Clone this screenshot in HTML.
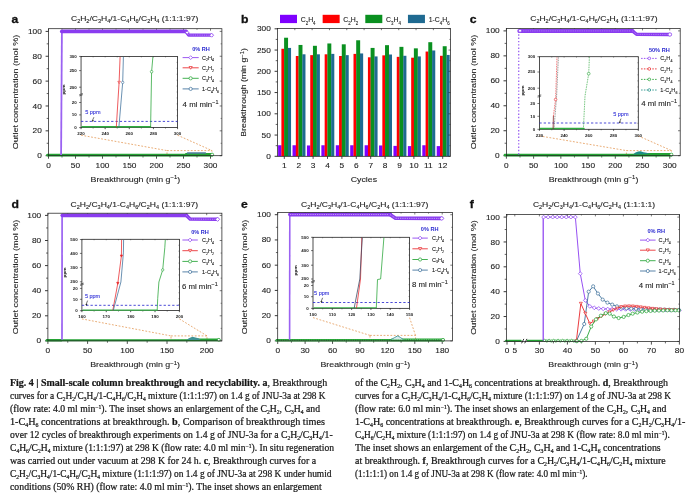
<!DOCTYPE html>
<html lang="en"><head><meta charset="utf-8"><title>Fig. 4 Small-scale column breakthrough and recyclability</title>
<style>
html,body{margin:0;padding:0;background:#fff}
#pg{position:relative;width:692px;height:493px;overflow:hidden;background:#fff}
svg{position:absolute;left:0;top:0}
svg text{font-family:"Liberation Sans",Arial,Helvetica,sans-serif}
.cl{position:absolute;white-space:nowrap;font-family:"Liberation Serif","Times New Roman",serif;font-size:10px;line-height:13px;color:#161616;transform-origin:0 0;-webkit-text-stroke:0.22px #161616}
.cl b{font-weight:bold}
.cl sub{font-size:5.8px;vertical-align:-1.8px;line-height:0}
.cl sup{font-size:5.8px;vertical-align:3.4px;line-height:0}
</style></head><body><div id="pg">
<svg width="692" height="493" viewBox="0 0 692 493">
<text transform="translate(11.60 22.80) scale(1.080 1)" font-size="11.30" fill="#111" stroke="#111" stroke-width="0.30" font-weight="bold" >a</text>
<text transform="translate(134.65 20.60) scale(1.188 1)" font-size="7.20" fill="#222222" stroke="#222222" stroke-width="0.10" text-anchor="middle" >C<tspan dy="2.45" font-size="4.61">2</tspan><tspan dy="-2.45">H</tspan><tspan dy="2.45" font-size="4.61">2</tspan><tspan dy="-2.45">/C</tspan><tspan dy="2.45" font-size="4.61">3</tspan><tspan dy="-2.45">H</tspan><tspan dy="2.45" font-size="4.61">4</tspan><tspan dy="-2.45">/1-C</tspan><tspan dy="2.45" font-size="4.61">4</tspan><tspan dy="-2.45">H</tspan><tspan dy="2.45" font-size="4.61">6</tspan><tspan dy="-2.45">/C</tspan><tspan dy="2.45" font-size="4.61">2</tspan><tspan dy="-2.45">H</tspan><tspan dy="2.45" font-size="4.61">4</tspan><tspan dy="-2.45"> (</tspan>1:1:1:97)</text>
<text transform="translate(17.60 92.00) rotate(-90) scale(1.220 1)" font-size="7.40" fill="#222222" stroke="#222222" stroke-width="0.10" text-anchor="middle" >Outlet concentration (mol %)</text>
<text transform="translate(135.40 181.90) scale(1.195 1)" font-size="7.40" fill="#222222" stroke="#222222" stroke-width="0.10" text-anchor="middle" >Breakthrough (min g<tspan dy="-2.6" font-size="5">−1</tspan><tspan dy="2.6">)</tspan></text>
<line x1="45.60" y1="155.70" x2="48.50" y2="155.70" stroke="#222" stroke-width="0.90" />
<text transform="translate(41.80 158.25) scale(1.190 1)" font-size="7.00" fill="#222222" stroke="#222222" stroke-width="0.10" text-anchor="end" >0</text>
<line x1="219.70" y1="155.70" x2="221.90" y2="155.70" stroke="#222" stroke-width="0.60" />
<line x1="46.70" y1="143.27" x2="48.50" y2="143.27" stroke="#222" stroke-width="0.70" />
<line x1="220.60" y1="143.27" x2="221.90" y2="143.27" stroke="#222" stroke-width="0.50" />
<line x1="45.60" y1="130.84" x2="48.50" y2="130.84" stroke="#222" stroke-width="0.90" />
<text transform="translate(41.80 133.39) scale(1.190 1)" font-size="7.00" fill="#222222" stroke="#222222" stroke-width="0.10" text-anchor="end" >20</text>
<line x1="219.70" y1="130.84" x2="221.90" y2="130.84" stroke="#222" stroke-width="0.60" />
<line x1="46.70" y1="118.41" x2="48.50" y2="118.41" stroke="#222" stroke-width="0.70" />
<line x1="220.60" y1="118.41" x2="221.90" y2="118.41" stroke="#222" stroke-width="0.50" />
<line x1="45.60" y1="105.98" x2="48.50" y2="105.98" stroke="#222" stroke-width="0.90" />
<text transform="translate(41.80 108.53) scale(1.190 1)" font-size="7.00" fill="#222222" stroke="#222222" stroke-width="0.10" text-anchor="end" >40</text>
<line x1="219.70" y1="105.98" x2="221.90" y2="105.98" stroke="#222" stroke-width="0.60" />
<line x1="46.70" y1="93.55" x2="48.50" y2="93.55" stroke="#222" stroke-width="0.70" />
<line x1="220.60" y1="93.55" x2="221.90" y2="93.55" stroke="#222" stroke-width="0.50" />
<line x1="45.60" y1="81.12" x2="48.50" y2="81.12" stroke="#222" stroke-width="0.90" />
<text transform="translate(41.80 83.67) scale(1.190 1)" font-size="7.00" fill="#222222" stroke="#222222" stroke-width="0.10" text-anchor="end" >60</text>
<line x1="219.70" y1="81.12" x2="221.90" y2="81.12" stroke="#222" stroke-width="0.60" />
<line x1="46.70" y1="68.69" x2="48.50" y2="68.69" stroke="#222" stroke-width="0.70" />
<line x1="220.60" y1="68.69" x2="221.90" y2="68.69" stroke="#222" stroke-width="0.50" />
<line x1="45.60" y1="56.26" x2="48.50" y2="56.26" stroke="#222" stroke-width="0.90" />
<text transform="translate(41.80 58.81) scale(1.190 1)" font-size="7.00" fill="#222222" stroke="#222222" stroke-width="0.10" text-anchor="end" >80</text>
<line x1="219.70" y1="56.26" x2="221.90" y2="56.26" stroke="#222" stroke-width="0.60" />
<line x1="46.70" y1="43.83" x2="48.50" y2="43.83" stroke="#222" stroke-width="0.70" />
<line x1="220.60" y1="43.83" x2="221.90" y2="43.83" stroke="#222" stroke-width="0.50" />
<line x1="45.60" y1="31.40" x2="48.50" y2="31.40" stroke="#222" stroke-width="0.90" />
<text transform="translate(41.80 33.95) scale(1.190 1)" font-size="7.00" fill="#222222" stroke="#222222" stroke-width="0.10" text-anchor="end" >100</text>
<line x1="219.70" y1="31.40" x2="221.90" y2="31.40" stroke="#222" stroke-width="0.60" />
<line x1="48.50" y1="155.70" x2="48.50" y2="158.70" stroke="#222" stroke-width="0.80" />
<line x1="48.50" y1="28.70" x2="48.50" y2="30.70" stroke="#222" stroke-width="0.60" />
<text transform="translate(48.50 168.00) scale(1.190 1)" font-size="7.00" fill="#222222" stroke="#222222" stroke-width="0.10" text-anchor="middle" >0</text>
<line x1="75.50" y1="155.70" x2="75.50" y2="158.70" stroke="#222" stroke-width="0.80" />
<line x1="75.50" y1="28.70" x2="75.50" y2="30.70" stroke="#222" stroke-width="0.60" />
<text transform="translate(75.50 168.00) scale(1.190 1)" font-size="7.00" fill="#222222" stroke="#222222" stroke-width="0.10" text-anchor="middle" >50</text>
<line x1="102.50" y1="155.70" x2="102.50" y2="158.70" stroke="#222" stroke-width="0.80" />
<line x1="102.50" y1="28.70" x2="102.50" y2="30.70" stroke="#222" stroke-width="0.60" />
<text transform="translate(102.50 168.00) scale(1.190 1)" font-size="7.00" fill="#222222" stroke="#222222" stroke-width="0.10" text-anchor="middle" >100</text>
<line x1="129.50" y1="155.70" x2="129.50" y2="158.70" stroke="#222" stroke-width="0.80" />
<line x1="129.50" y1="28.70" x2="129.50" y2="30.70" stroke="#222" stroke-width="0.60" />
<text transform="translate(129.50 168.00) scale(1.190 1)" font-size="7.00" fill="#222222" stroke="#222222" stroke-width="0.10" text-anchor="middle" >150</text>
<line x1="156.50" y1="155.70" x2="156.50" y2="158.70" stroke="#222" stroke-width="0.80" />
<line x1="156.50" y1="28.70" x2="156.50" y2="30.70" stroke="#222" stroke-width="0.60" />
<text transform="translate(156.50 168.00) scale(1.190 1)" font-size="7.00" fill="#222222" stroke="#222222" stroke-width="0.10" text-anchor="middle" >200</text>
<line x1="183.50" y1="155.70" x2="183.50" y2="158.70" stroke="#222" stroke-width="0.80" />
<line x1="183.50" y1="28.70" x2="183.50" y2="30.70" stroke="#222" stroke-width="0.60" />
<text transform="translate(183.50 168.00) scale(1.190 1)" font-size="7.00" fill="#222222" stroke="#222222" stroke-width="0.10" text-anchor="middle" >250</text>
<line x1="210.50" y1="155.70" x2="210.50" y2="158.70" stroke="#222" stroke-width="0.80" />
<line x1="210.50" y1="28.70" x2="210.50" y2="30.70" stroke="#222" stroke-width="0.60" />
<text transform="translate(210.50 168.00) scale(1.190 1)" font-size="7.00" fill="#222222" stroke="#222222" stroke-width="0.10" text-anchor="middle" >300</text>
<line x1="62.00" y1="155.70" x2="62.00" y2="157.50" stroke="#222" stroke-width="0.70" />
<line x1="62.00" y1="28.70" x2="62.00" y2="29.90" stroke="#222" stroke-width="0.50" />
<line x1="89.00" y1="155.70" x2="89.00" y2="157.50" stroke="#222" stroke-width="0.70" />
<line x1="89.00" y1="28.70" x2="89.00" y2="29.90" stroke="#222" stroke-width="0.50" />
<line x1="116.00" y1="155.70" x2="116.00" y2="157.50" stroke="#222" stroke-width="0.70" />
<line x1="116.00" y1="28.70" x2="116.00" y2="29.90" stroke="#222" stroke-width="0.50" />
<line x1="143.00" y1="155.70" x2="143.00" y2="157.50" stroke="#222" stroke-width="0.70" />
<line x1="143.00" y1="28.70" x2="143.00" y2="29.90" stroke="#222" stroke-width="0.50" />
<line x1="170.00" y1="155.70" x2="170.00" y2="157.50" stroke="#222" stroke-width="0.70" />
<line x1="170.00" y1="28.70" x2="170.00" y2="29.90" stroke="#222" stroke-width="0.50" />
<line x1="197.00" y1="155.70" x2="197.00" y2="157.50" stroke="#222" stroke-width="0.70" />
<line x1="197.00" y1="28.70" x2="197.00" y2="29.90" stroke="#222" stroke-width="0.50" />
<line x1="81.05" y1="135.20" x2="167.00" y2="150.60" stroke="#e08a3c" stroke-width="0.70" stroke-dasharray="1.8 1.6"/>
<line x1="177.55" y1="135.20" x2="212.00" y2="150.60" stroke="#e08a3c" stroke-width="0.70" stroke-dasharray="1.8 1.6"/>
<rect x="167.00" y="150.60" width="45.00" height="4.40" fill="none" stroke="#e08a3c" stroke-width="0.70" stroke-dasharray="1.8 1.6"/>
<rect x="81.05" y="56.45" width="96.50" height="71.15" fill="#fff" stroke="#222" stroke-width="0.80" />
<line x1="79.05" y1="56.45" x2="81.05" y2="56.45" stroke="#222" stroke-width="0.60" />
<text transform="translate(76.85 57.90) scale(1.120 1)" font-size="4.00" fill="#222222" stroke="#222222" stroke-width="0.00" text-anchor="end" font-weight="bold" >300</text>
<line x1="79.05" y1="70.60" x2="81.05" y2="70.60" stroke="#222" stroke-width="0.60" />
<text transform="translate(76.85 72.05) scale(1.120 1)" font-size="4.00" fill="#222222" stroke="#222222" stroke-width="0.00" text-anchor="end" font-weight="bold" >250</text>
<line x1="79.05" y1="87.20" x2="81.05" y2="87.20" stroke="#222" stroke-width="0.60" />
<text transform="translate(76.85 88.65) scale(1.120 1)" font-size="4.00" fill="#222222" stroke="#222222" stroke-width="0.00" text-anchor="end" font-weight="bold" >200</text>
<line x1="79.05" y1="102.50" x2="81.05" y2="102.50" stroke="#222" stroke-width="0.60" />
<text transform="translate(76.85 103.95) scale(1.120 1)" font-size="4.00" fill="#222222" stroke="#222222" stroke-width="0.00" text-anchor="end" font-weight="bold" >20</text>
<line x1="79.05" y1="114.90" x2="81.05" y2="114.90" stroke="#222" stroke-width="0.60" />
<text transform="translate(76.85 116.35) scale(1.120 1)" font-size="4.00" fill="#222222" stroke="#222222" stroke-width="0.00" text-anchor="end" font-weight="bold" >10</text>
<line x1="79.05" y1="127.60" x2="81.05" y2="127.60" stroke="#222" stroke-width="0.60" />
<text transform="translate(76.85 129.05) scale(1.120 1)" font-size="4.00" fill="#222222" stroke="#222222" stroke-width="0.00" text-anchor="end" font-weight="bold" >0</text>
<line x1="81.05" y1="127.60" x2="81.05" y2="129.20" stroke="#222" stroke-width="0.60" />
<text transform="translate(81.05 134.80) scale(1.120 1)" font-size="4.00" fill="#222222" stroke="#222222" stroke-width="0.00" text-anchor="middle" font-weight="bold" >220</text>
<line x1="105.17" y1="127.60" x2="105.17" y2="129.20" stroke="#222" stroke-width="0.60" />
<text transform="translate(105.17 134.80) scale(1.120 1)" font-size="4.00" fill="#222222" stroke="#222222" stroke-width="0.00" text-anchor="middle" font-weight="bold" >240</text>
<line x1="129.30" y1="127.60" x2="129.30" y2="129.20" stroke="#222" stroke-width="0.60" />
<text transform="translate(129.30 134.80) scale(1.120 1)" font-size="4.00" fill="#222222" stroke="#222222" stroke-width="0.00" text-anchor="middle" font-weight="bold" >260</text>
<line x1="153.43" y1="127.60" x2="153.43" y2="129.20" stroke="#222" stroke-width="0.60" />
<text transform="translate(153.43 134.80) scale(1.120 1)" font-size="4.00" fill="#222222" stroke="#222222" stroke-width="0.00" text-anchor="middle" font-weight="bold" >280</text>
<line x1="177.55" y1="127.60" x2="177.55" y2="129.20" stroke="#222" stroke-width="0.60" />
<text transform="translate(177.55 134.80) scale(1.120 1)" font-size="4.00" fill="#222222" stroke="#222222" stroke-width="0.00" text-anchor="middle" font-weight="bold" >300</text>
<line x1="81.05" y1="127.60" x2="81.05" y2="128.60" stroke="#222" stroke-width="0.50" />
<line x1="81.05" y1="56.45" x2="81.05" y2="57.45" stroke="#222" stroke-width="0.40" />
<line x1="93.11" y1="127.60" x2="93.11" y2="128.60" stroke="#222" stroke-width="0.50" />
<line x1="93.11" y1="56.45" x2="93.11" y2="57.45" stroke="#222" stroke-width="0.40" />
<line x1="105.17" y1="127.60" x2="105.17" y2="128.60" stroke="#222" stroke-width="0.50" />
<line x1="105.17" y1="56.45" x2="105.17" y2="57.45" stroke="#222" stroke-width="0.40" />
<line x1="117.24" y1="127.60" x2="117.24" y2="128.60" stroke="#222" stroke-width="0.50" />
<line x1="117.24" y1="56.45" x2="117.24" y2="57.45" stroke="#222" stroke-width="0.40" />
<line x1="129.30" y1="127.60" x2="129.30" y2="128.60" stroke="#222" stroke-width="0.50" />
<line x1="129.30" y1="56.45" x2="129.30" y2="57.45" stroke="#222" stroke-width="0.40" />
<line x1="141.36" y1="127.60" x2="141.36" y2="128.60" stroke="#222" stroke-width="0.50" />
<line x1="141.36" y1="56.45" x2="141.36" y2="57.45" stroke="#222" stroke-width="0.40" />
<line x1="153.43" y1="127.60" x2="153.43" y2="128.60" stroke="#222" stroke-width="0.50" />
<line x1="153.43" y1="56.45" x2="153.43" y2="57.45" stroke="#222" stroke-width="0.40" />
<line x1="165.49" y1="127.60" x2="165.49" y2="128.60" stroke="#222" stroke-width="0.50" />
<line x1="165.49" y1="56.45" x2="165.49" y2="57.45" stroke="#222" stroke-width="0.40" />
<line x1="177.55" y1="127.60" x2="177.55" y2="128.60" stroke="#222" stroke-width="0.50" />
<line x1="177.55" y1="56.45" x2="177.55" y2="57.45" stroke="#222" stroke-width="0.40" />
<line x1="176.55" y1="62.38" x2="177.55" y2="62.38" stroke="#222" stroke-width="0.40" />
<line x1="176.55" y1="68.31" x2="177.55" y2="68.31" stroke="#222" stroke-width="0.40" />
<line x1="176.55" y1="74.24" x2="177.55" y2="74.24" stroke="#222" stroke-width="0.40" />
<line x1="176.55" y1="80.17" x2="177.55" y2="80.17" stroke="#222" stroke-width="0.40" />
<line x1="176.55" y1="86.10" x2="177.55" y2="86.10" stroke="#222" stroke-width="0.40" />
<line x1="176.55" y1="92.03" x2="177.55" y2="92.03" stroke="#222" stroke-width="0.40" />
<line x1="176.55" y1="97.95" x2="177.55" y2="97.95" stroke="#222" stroke-width="0.40" />
<line x1="176.55" y1="103.88" x2="177.55" y2="103.88" stroke="#222" stroke-width="0.40" />
<line x1="176.55" y1="109.81" x2="177.55" y2="109.81" stroke="#222" stroke-width="0.40" />
<line x1="176.55" y1="115.74" x2="177.55" y2="115.74" stroke="#222" stroke-width="0.40" />
<line x1="176.55" y1="121.67" x2="177.55" y2="121.67" stroke="#222" stroke-width="0.40" />
<line x1="79.25" y1="95.90" x2="82.85" y2="94.70" stroke="#222" stroke-width="0.60" />
<line x1="79.25" y1="94.70" x2="82.85" y2="93.50" stroke="#222" stroke-width="0.60" />
<text transform="translate(65.15 89.53) rotate(-90) scale(1.100 1)" font-size="4.40" fill="#222222" stroke="#222222" stroke-width="0.00" text-anchor="middle" font-weight="bold" >ppm</text>
<line x1="81.05" y1="121.40" x2="177.55" y2="121.40" stroke="#2a2ad0" stroke-width="0.85" stroke-dasharray="2.3 2.0"/>
<text transform="translate(85.20 114.00)" font-size="5.50" fill="#3434d8" stroke="#3434d8" stroke-width="0.10" >5 ppm</text>
<line x1="93.90" y1="117.20" x2="92.30" y2="120.80" stroke="#111" stroke-width="0.60" />
<path d="M91.80 120.50l2.0 -0.6l-0.9 2.0z" fill="#111"/>
<polyline points="82.05,126.70 150.40,126.70" fill="none" stroke="#2fae40" stroke-width="1.60" stroke-linejoin="round" stroke-linecap="round"/>
<polyline points="116.30,127.20 119.10,82.40 120.10,56.90" fill="none" stroke="#e8262a" stroke-width="0.75" stroke-linejoin="round" />
<polyline points="118.90,127.20 122.70,82.40 123.40,56.90" fill="none" stroke="#3b6e9a" stroke-width="0.75" stroke-linejoin="round" />
<polyline points="150.60,127.20 151.60,71.70 152.90,56.90" fill="none" stroke="#24a334" stroke-width="0.75" stroke-linejoin="round" />
<path d="M117.80 81.36L120.40 81.36L119.10 83.57Z" fill="#fff" stroke="#e8262a" stroke-width="0.60"/>
<circle cx="122.70" cy="82.40" r="1.20" fill="#fff" stroke="#3b6e9a" stroke-width="0.60"/>
<circle cx="151.60" cy="71.70" r="1.30" fill="#fff" stroke="#24a334" stroke-width="0.60"/>
<polyline points="47.50,155.10 212.12,155.10" fill="none" stroke="#24a334" stroke-width="2.70" stroke-linejoin="round" stroke-linecap="round"/>
<polyline points="186.20,154.40 212.12,154.40" fill="none" stroke="#24a334" stroke-width="2.60" stroke-linejoin="round" stroke-linecap="round"/>
<polyline points="187.50,152.90 205.40,152.90" fill="none" stroke="#4f7f9f" stroke-width="1.50" stroke-linejoin="round" stroke-linecap="round"/>
<line x1="61.10" y1="154.90" x2="61.90" y2="31.40" stroke="#9b62f2" stroke-width="1.80" />
<polyline points="61.90,31.40 186.00,31.40" fill="none" stroke="#8a3cf0" stroke-width="3.90" stroke-linejoin="round" stroke-linecap="round"/>
<polyline points="186.00,31.60 188.60,35.00 211.70,35.20" fill="none" stroke="#8a3cf0" stroke-width="3.30" stroke-linejoin="round" stroke-linecap="round"/>
<polyline points="186.00,31.60 188.60,35.00 211.70,35.20" fill="none" stroke="#d9c0f8" stroke-width="0.73" stroke-linejoin="round" stroke-dasharray="0.8 1.0"/>
<path d="M185.50 32.60L187.20 30.90L188.90 32.60L187.20 34.30Z" fill="#fff" stroke="#8a3cf0" stroke-width="0.70"/>
<path d="M209.60 35.20L211.60 33.20L213.60 35.20L211.60 37.20Z" fill="#fff" stroke="#8a3cf0" stroke-width="0.70"/>
<circle cx="212.12" cy="154.60" r="1.50" fill="#fff" stroke="#24a334" stroke-width="0.70"/>
<text transform="translate(201.00 50.90) scale(1.120 1)" font-size="5.00" fill="#2a2ad0" stroke="#2a2ad0" stroke-width="0.00" text-anchor="middle" font-weight="bold" >0% RH</text>
<line x1="182.60" y1="57.60" x2="198.70" y2="57.60" stroke="#8a3cf0" stroke-width="0.85" />
<path d="M188.75 57.60L190.65 55.70L192.55 57.60L190.65 59.50Z" fill="#fff" stroke="#8a3cf0" stroke-width="0.70"/>
<text transform="translate(202.00 59.60) scale(1.020 1)" font-size="5.50" fill="#222222" stroke="#222222" stroke-width="0.10" >C<tspan dy="1.87" font-size="3.52">2</tspan><tspan dy="-1.87">H</tspan><tspan dy="1.87" font-size="3.52">4</tspan></text>
<line x1="182.60" y1="67.80" x2="198.70" y2="67.80" stroke="#e8262a" stroke-width="0.85" />
<path d="M189.05 66.52L192.25 66.52L190.65 69.24Z" fill="#fff" stroke="#e8262a" stroke-width="0.70"/>
<text transform="translate(202.00 69.80) scale(1.020 1)" font-size="5.50" fill="#222222" stroke="#222222" stroke-width="0.10" >C<tspan dy="1.87" font-size="3.52">2</tspan><tspan dy="-1.87">H</tspan><tspan dy="1.87" font-size="3.52">2</tspan></text>
<line x1="182.60" y1="78.30" x2="198.70" y2="78.30" stroke="#24a334" stroke-width="0.85" />
<circle cx="190.65" cy="78.30" r="1.60" fill="#fff" stroke="#24a334" stroke-width="0.70"/>
<text transform="translate(202.00 80.30) scale(1.020 1)" font-size="5.50" fill="#222222" stroke="#222222" stroke-width="0.10" >C<tspan dy="1.87" font-size="3.52">3</tspan><tspan dy="-1.87">H</tspan><tspan dy="1.87" font-size="3.52">4</tspan></text>
<line x1="182.60" y1="88.90" x2="198.70" y2="88.90" stroke="#3b6e9a" stroke-width="0.85" />
<circle cx="190.65" cy="88.90" r="1.60" fill="#fff" stroke="#3b6e9a" stroke-width="0.70"/>
<text transform="translate(202.00 90.90) scale(1.020 1)" font-size="5.50" fill="#222222" stroke="#222222" stroke-width="0.10" >1-C<tspan dy="1.87" font-size="3.52">4</tspan><tspan dy="-1.87">H</tspan><tspan dy="1.87" font-size="3.52">6</tspan></text>
<text transform="translate(182.60 106.50) scale(1.090 1)" font-size="7.20" fill="#222222" stroke="#222222" stroke-width="0.10" >4 ml min<tspan dy="-2.8" font-size="5">−1</tspan></text>
<text transform="translate(241.00 23.00) scale(1.080 1)" font-size="11.30" fill="#111" stroke="#111" stroke-width="0.30" font-weight="bold" >b</text>
<rect x="280.00" y="14.80" width="17.00" height="8.30" fill="#7f00ff" stroke="none" stroke-width="0.80" />
<text transform="translate(300.70 22.30)" font-size="6.90" fill="#222222" stroke="#222222" stroke-width="0.10" >C<tspan dy="2.35" font-size="4.42">2</tspan><tspan dy="-2.35">H</tspan><tspan dy="2.35" font-size="4.42">4</tspan></text>
<rect x="322.65" y="14.80" width="17.00" height="8.30" fill="#ff0000" stroke="none" stroke-width="0.80" />
<text transform="translate(343.35 22.30)" font-size="6.90" fill="#222222" stroke="#222222" stroke-width="0.10" >C<tspan dy="2.35" font-size="4.42">2</tspan><tspan dy="-2.35">H</tspan><tspan dy="2.35" font-size="4.42">2</tspan></text>
<rect x="365.30" y="14.80" width="17.00" height="8.30" fill="#0a9020" stroke="none" stroke-width="0.80" />
<text transform="translate(386.00 22.30)" font-size="6.90" fill="#222222" stroke="#222222" stroke-width="0.10" >C<tspan dy="2.35" font-size="4.42">3</tspan><tspan dy="-2.35">H</tspan><tspan dy="2.35" font-size="4.42">4</tspan></text>
<rect x="407.95" y="14.80" width="17.00" height="8.30" fill="#1f6a91" stroke="none" stroke-width="0.80" />
<text transform="translate(428.65 22.30)" font-size="6.90" fill="#222222" stroke="#222222" stroke-width="0.10" >1-C<tspan dy="2.35" font-size="4.42">4</tspan><tspan dy="-2.35">H</tspan><tspan dy="2.35" font-size="4.42">6</tspan></text>
<rect x="278.10" y="145.25" width="3.45" height="11.05" fill="#7f00ff" stroke="none" stroke-width="0.80" />
<rect x="281.40" y="48.78" width="2.85" height="107.53" fill="#ff0000" stroke="none" stroke-width="0.80" />
<rect x="284.10" y="37.72" width="3.95" height="118.58" fill="#0a9020" stroke="none" stroke-width="0.80" />
<rect x="287.90" y="47.92" width="3.15" height="108.38" fill="#1f6a91" stroke="none" stroke-width="0.80" />
<rect x="292.52" y="145.25" width="3.45" height="11.05" fill="#7f00ff" stroke="none" stroke-width="0.80" />
<rect x="295.82" y="56.00" width="2.85" height="100.30" fill="#ff0000" stroke="none" stroke-width="0.80" />
<rect x="298.52" y="44.95" width="3.95" height="111.35" fill="#0a9020" stroke="none" stroke-width="0.80" />
<rect x="302.32" y="54.30" width="3.15" height="102.00" fill="#1f6a91" stroke="none" stroke-width="0.80" />
<rect x="306.94" y="145.46" width="3.45" height="10.84" fill="#7f00ff" stroke="none" stroke-width="0.80" />
<rect x="310.24" y="55.15" width="2.85" height="101.15" fill="#ff0000" stroke="none" stroke-width="0.80" />
<rect x="312.94" y="45.80" width="3.95" height="110.50" fill="#0a9020" stroke="none" stroke-width="0.80" />
<rect x="316.74" y="54.30" width="3.15" height="102.00" fill="#1f6a91" stroke="none" stroke-width="0.80" />
<rect x="321.36" y="145.25" width="3.45" height="11.05" fill="#7f00ff" stroke="none" stroke-width="0.80" />
<rect x="324.66" y="54.30" width="2.85" height="102.00" fill="#ff0000" stroke="none" stroke-width="0.80" />
<rect x="327.36" y="43.46" width="3.95" height="112.84" fill="#0a9020" stroke="none" stroke-width="0.80" />
<rect x="331.16" y="53.88" width="3.15" height="102.43" fill="#1f6a91" stroke="none" stroke-width="0.80" />
<rect x="335.78" y="145.25" width="3.45" height="11.05" fill="#7f00ff" stroke="none" stroke-width="0.80" />
<rect x="339.08" y="56.00" width="2.85" height="100.30" fill="#ff0000" stroke="none" stroke-width="0.80" />
<rect x="341.78" y="44.31" width="3.95" height="111.99" fill="#0a9020" stroke="none" stroke-width="0.80" />
<rect x="345.58" y="55.15" width="3.15" height="101.15" fill="#1f6a91" stroke="none" stroke-width="0.80" />
<rect x="350.20" y="145.25" width="3.45" height="11.05" fill="#7f00ff" stroke="none" stroke-width="0.80" />
<rect x="353.50" y="53.88" width="2.85" height="102.43" fill="#ff0000" stroke="none" stroke-width="0.80" />
<rect x="356.20" y="40.27" width="3.95" height="116.03" fill="#0a9020" stroke="none" stroke-width="0.80" />
<rect x="360.00" y="53.45" width="3.15" height="102.85" fill="#1f6a91" stroke="none" stroke-width="0.80" />
<rect x="364.62" y="145.25" width="3.45" height="11.05" fill="#7f00ff" stroke="none" stroke-width="0.80" />
<rect x="367.92" y="57.28" width="2.85" height="99.03" fill="#ff0000" stroke="none" stroke-width="0.80" />
<rect x="370.62" y="47.92" width="3.95" height="108.38" fill="#0a9020" stroke="none" stroke-width="0.80" />
<rect x="374.42" y="56.42" width="3.15" height="99.88" fill="#1f6a91" stroke="none" stroke-width="0.80" />
<rect x="379.04" y="145.46" width="3.45" height="10.84" fill="#7f00ff" stroke="none" stroke-width="0.80" />
<rect x="382.34" y="55.36" width="2.85" height="100.94" fill="#ff0000" stroke="none" stroke-width="0.80" />
<rect x="385.04" y="45.16" width="3.95" height="111.14" fill="#0a9020" stroke="none" stroke-width="0.80" />
<rect x="388.84" y="54.51" width="3.15" height="101.79" fill="#1f6a91" stroke="none" stroke-width="0.80" />
<rect x="393.46" y="145.89" width="3.45" height="10.41" fill="#7f00ff" stroke="none" stroke-width="0.80" />
<rect x="396.76" y="56.85" width="2.85" height="99.45" fill="#ff0000" stroke="none" stroke-width="0.80" />
<rect x="399.46" y="46.86" width="3.95" height="109.44" fill="#0a9020" stroke="none" stroke-width="0.80" />
<rect x="403.26" y="55.79" width="3.15" height="100.51" fill="#1f6a91" stroke="none" stroke-width="0.80" />
<rect x="407.88" y="146.10" width="3.45" height="10.20" fill="#7f00ff" stroke="none" stroke-width="0.80" />
<rect x="411.18" y="57.70" width="2.85" height="98.60" fill="#ff0000" stroke="none" stroke-width="0.80" />
<rect x="413.88" y="48.35" width="3.95" height="107.95" fill="#0a9020" stroke="none" stroke-width="0.80" />
<rect x="417.68" y="56.42" width="3.15" height="99.88" fill="#1f6a91" stroke="none" stroke-width="0.80" />
<rect x="422.30" y="145.25" width="3.45" height="11.05" fill="#7f00ff" stroke="none" stroke-width="0.80" />
<rect x="425.60" y="51.54" width="2.85" height="104.76" fill="#ff0000" stroke="none" stroke-width="0.80" />
<rect x="428.30" y="42.19" width="3.95" height="114.11" fill="#0a9020" stroke="none" stroke-width="0.80" />
<rect x="432.10" y="50.47" width="3.15" height="105.83" fill="#1f6a91" stroke="none" stroke-width="0.80" />
<rect x="436.72" y="146.10" width="3.45" height="10.20" fill="#7f00ff" stroke="none" stroke-width="0.80" />
<rect x="440.02" y="55.79" width="2.85" height="100.51" fill="#ff0000" stroke="none" stroke-width="0.80" />
<rect x="442.72" y="46.22" width="3.95" height="110.08" fill="#0a9020" stroke="none" stroke-width="0.80" />
<rect x="446.52" y="54.94" width="3.15" height="101.36" fill="#1f6a91" stroke="none" stroke-width="0.80" />
<rect x="277.50" y="28.60" width="173.00" height="127.70" fill="none" stroke="#222" stroke-width="0.75" />
<line x1="274.60" y1="156.30" x2="277.50" y2="156.30" stroke="#222" stroke-width="0.90" />
<text transform="translate(270.80 158.85) scale(1.190 1)" font-size="7.00" fill="#222222" stroke="#222222" stroke-width="0.10" text-anchor="end" >0</text>
<line x1="448.50" y1="156.30" x2="450.50" y2="156.30" stroke="#222" stroke-width="0.60" />
<line x1="275.70" y1="145.68" x2="277.50" y2="145.68" stroke="#222" stroke-width="0.70" />
<line x1="449.30" y1="145.68" x2="450.50" y2="145.68" stroke="#222" stroke-width="0.50" />
<line x1="274.60" y1="135.05" x2="277.50" y2="135.05" stroke="#222" stroke-width="0.90" />
<text transform="translate(270.80 137.60) scale(1.190 1)" font-size="7.00" fill="#222222" stroke="#222222" stroke-width="0.10" text-anchor="end" >50</text>
<line x1="448.50" y1="135.05" x2="450.50" y2="135.05" stroke="#222" stroke-width="0.60" />
<line x1="275.70" y1="124.43" x2="277.50" y2="124.43" stroke="#222" stroke-width="0.70" />
<line x1="449.30" y1="124.43" x2="450.50" y2="124.43" stroke="#222" stroke-width="0.50" />
<line x1="274.60" y1="113.80" x2="277.50" y2="113.80" stroke="#222" stroke-width="0.90" />
<text transform="translate(270.80 116.35) scale(1.190 1)" font-size="7.00" fill="#222222" stroke="#222222" stroke-width="0.10" text-anchor="end" >100</text>
<line x1="448.50" y1="113.80" x2="450.50" y2="113.80" stroke="#222" stroke-width="0.60" />
<line x1="275.70" y1="103.18" x2="277.50" y2="103.18" stroke="#222" stroke-width="0.70" />
<line x1="449.30" y1="103.18" x2="450.50" y2="103.18" stroke="#222" stroke-width="0.50" />
<line x1="274.60" y1="92.55" x2="277.50" y2="92.55" stroke="#222" stroke-width="0.90" />
<text transform="translate(270.80 95.10) scale(1.190 1)" font-size="7.00" fill="#222222" stroke="#222222" stroke-width="0.10" text-anchor="end" >150</text>
<line x1="448.50" y1="92.55" x2="450.50" y2="92.55" stroke="#222" stroke-width="0.60" />
<line x1="275.70" y1="81.92" x2="277.50" y2="81.92" stroke="#222" stroke-width="0.70" />
<line x1="449.30" y1="81.92" x2="450.50" y2="81.92" stroke="#222" stroke-width="0.50" />
<line x1="274.60" y1="71.30" x2="277.50" y2="71.30" stroke="#222" stroke-width="0.90" />
<text transform="translate(270.80 73.85) scale(1.190 1)" font-size="7.00" fill="#222222" stroke="#222222" stroke-width="0.10" text-anchor="end" >200</text>
<line x1="448.50" y1="71.30" x2="450.50" y2="71.30" stroke="#222" stroke-width="0.60" />
<line x1="275.70" y1="60.67" x2="277.50" y2="60.67" stroke="#222" stroke-width="0.70" />
<line x1="449.30" y1="60.67" x2="450.50" y2="60.67" stroke="#222" stroke-width="0.50" />
<line x1="274.60" y1="50.05" x2="277.50" y2="50.05" stroke="#222" stroke-width="0.90" />
<text transform="translate(270.80 52.60) scale(1.190 1)" font-size="7.00" fill="#222222" stroke="#222222" stroke-width="0.10" text-anchor="end" >250</text>
<line x1="448.50" y1="50.05" x2="450.50" y2="50.05" stroke="#222" stroke-width="0.60" />
<line x1="275.70" y1="39.42" x2="277.50" y2="39.42" stroke="#222" stroke-width="0.70" />
<line x1="449.30" y1="39.42" x2="450.50" y2="39.42" stroke="#222" stroke-width="0.50" />
<line x1="274.60" y1="28.80" x2="277.50" y2="28.80" stroke="#222" stroke-width="0.90" />
<text transform="translate(270.80 31.35) scale(1.190 1)" font-size="7.00" fill="#222222" stroke="#222222" stroke-width="0.10" text-anchor="end" >300</text>
<line x1="448.50" y1="28.80" x2="450.50" y2="28.80" stroke="#222" stroke-width="0.60" />
<line x1="284.30" y1="156.30" x2="284.30" y2="158.90" stroke="#222" stroke-width="0.80" />
<text transform="translate(284.30 168.00) scale(1.190 1)" font-size="7.00" fill="#222222" stroke="#222222" stroke-width="0.10" text-anchor="middle" >1</text>
<line x1="298.70" y1="156.30" x2="298.70" y2="158.90" stroke="#222" stroke-width="0.80" />
<text transform="translate(298.70 168.00) scale(1.190 1)" font-size="7.00" fill="#222222" stroke="#222222" stroke-width="0.10" text-anchor="middle" >2</text>
<line x1="313.10" y1="156.30" x2="313.10" y2="158.90" stroke="#222" stroke-width="0.80" />
<text transform="translate(313.10 168.00) scale(1.190 1)" font-size="7.00" fill="#222222" stroke="#222222" stroke-width="0.10" text-anchor="middle" >3</text>
<line x1="327.50" y1="156.30" x2="327.50" y2="158.90" stroke="#222" stroke-width="0.80" />
<text transform="translate(327.50 168.00) scale(1.190 1)" font-size="7.00" fill="#222222" stroke="#222222" stroke-width="0.10" text-anchor="middle" >4</text>
<line x1="341.90" y1="156.30" x2="341.90" y2="158.90" stroke="#222" stroke-width="0.80" />
<text transform="translate(341.90 168.00) scale(1.190 1)" font-size="7.00" fill="#222222" stroke="#222222" stroke-width="0.10" text-anchor="middle" >5</text>
<line x1="356.30" y1="156.30" x2="356.30" y2="158.90" stroke="#222" stroke-width="0.80" />
<text transform="translate(356.30 168.00) scale(1.190 1)" font-size="7.00" fill="#222222" stroke="#222222" stroke-width="0.10" text-anchor="middle" >6</text>
<line x1="370.70" y1="156.30" x2="370.70" y2="158.90" stroke="#222" stroke-width="0.80" />
<text transform="translate(370.70 168.00) scale(1.190 1)" font-size="7.00" fill="#222222" stroke="#222222" stroke-width="0.10" text-anchor="middle" >7</text>
<line x1="385.10" y1="156.30" x2="385.10" y2="158.90" stroke="#222" stroke-width="0.80" />
<text transform="translate(385.10 168.00) scale(1.190 1)" font-size="7.00" fill="#222222" stroke="#222222" stroke-width="0.10" text-anchor="middle" >8</text>
<line x1="399.50" y1="156.30" x2="399.50" y2="158.90" stroke="#222" stroke-width="0.80" />
<text transform="translate(399.50 168.00) scale(1.190 1)" font-size="7.00" fill="#222222" stroke="#222222" stroke-width="0.10" text-anchor="middle" >9</text>
<line x1="413.90" y1="156.30" x2="413.90" y2="158.90" stroke="#222" stroke-width="0.80" />
<text transform="translate(413.90 168.00) scale(1.190 1)" font-size="7.00" fill="#222222" stroke="#222222" stroke-width="0.10" text-anchor="middle" >10</text>
<line x1="428.30" y1="156.30" x2="428.30" y2="158.90" stroke="#222" stroke-width="0.80" />
<text transform="translate(428.30 168.00) scale(1.190 1)" font-size="7.00" fill="#222222" stroke="#222222" stroke-width="0.10" text-anchor="middle" >11</text>
<line x1="442.70" y1="156.30" x2="442.70" y2="158.90" stroke="#222" stroke-width="0.80" />
<text transform="translate(442.70 168.00) scale(1.190 1)" font-size="7.00" fill="#222222" stroke="#222222" stroke-width="0.10" text-anchor="middle" >12</text>
<line x1="294.82" y1="28.60" x2="294.82" y2="30.20" stroke="#222" stroke-width="0.60" />
<line x1="312.14" y1="28.60" x2="312.14" y2="30.20" stroke="#222" stroke-width="0.60" />
<line x1="329.46" y1="28.60" x2="329.46" y2="30.20" stroke="#222" stroke-width="0.60" />
<line x1="346.78" y1="28.60" x2="346.78" y2="30.20" stroke="#222" stroke-width="0.60" />
<line x1="364.10" y1="28.60" x2="364.10" y2="30.20" stroke="#222" stroke-width="0.60" />
<line x1="381.42" y1="28.60" x2="381.42" y2="30.20" stroke="#222" stroke-width="0.60" />
<line x1="398.74" y1="28.60" x2="398.74" y2="30.20" stroke="#222" stroke-width="0.60" />
<line x1="416.06" y1="28.60" x2="416.06" y2="30.20" stroke="#222" stroke-width="0.60" />
<line x1="433.38" y1="28.60" x2="433.38" y2="30.20" stroke="#222" stroke-width="0.60" />
<text transform="translate(246.30 92.40) rotate(-90) scale(1.177 1)" font-size="7.40" fill="#222222" stroke="#222222" stroke-width="0.10" text-anchor="middle" >Breakthrough (min g<tspan dy="-2.6" font-size="5">−1</tspan><tspan dy="2.6">)</tspan></text>
<text transform="translate(363.90 181.90) scale(1.190 1)" font-size="7.40" fill="#222222" stroke="#222222" stroke-width="0.10" text-anchor="middle" >Cycles</text>
<text transform="translate(469.80 22.80) scale(1.080 1)" font-size="11.30" fill="#111" stroke="#111" stroke-width="0.30" font-weight="bold" >c</text>
<text transform="translate(593.90 20.60) scale(1.188 1)" font-size="7.20" fill="#222222" stroke="#222222" stroke-width="0.10" text-anchor="middle" >C<tspan dy="2.45" font-size="4.61">2</tspan><tspan dy="-2.45">H</tspan><tspan dy="2.45" font-size="4.61">2</tspan><tspan dy="-2.45">/C</tspan><tspan dy="2.45" font-size="4.61">3</tspan><tspan dy="-2.45">H</tspan><tspan dy="2.45" font-size="4.61">4</tspan><tspan dy="-2.45">/1-C</tspan><tspan dy="2.45" font-size="4.61">4</tspan><tspan dy="-2.45">H</tspan><tspan dy="2.45" font-size="4.61">6</tspan><tspan dy="-2.45">/C</tspan><tspan dy="2.45" font-size="4.61">2</tspan><tspan dy="-2.45">H</tspan><tspan dy="2.45" font-size="4.61">4</tspan><tspan dy="-2.45"> (</tspan>1:1:1:97)</text>
<text transform="translate(476.40 92.00) rotate(-90) scale(1.220 1)" font-size="7.40" fill="#222222" stroke="#222222" stroke-width="0.10" text-anchor="middle" >Outlet concentration (mol %)</text>
<text transform="translate(593.50 181.90) scale(1.195 1)" font-size="7.40" fill="#222222" stroke="#222222" stroke-width="0.10" text-anchor="middle" >Breakthrough (min g<tspan dy="-2.6" font-size="5">−1</tspan><tspan dy="2.6">)</tspan></text>
<line x1="503.50" y1="155.70" x2="506.40" y2="155.70" stroke="#222" stroke-width="0.90" />
<text transform="translate(499.70 158.25) scale(1.190 1)" font-size="7.00" fill="#222222" stroke="#222222" stroke-width="0.10" text-anchor="end" >0</text>
<line x1="678.00" y1="155.70" x2="680.20" y2="155.70" stroke="#222" stroke-width="0.60" />
<line x1="504.60" y1="143.22" x2="506.40" y2="143.22" stroke="#222" stroke-width="0.70" />
<line x1="678.90" y1="143.22" x2="680.20" y2="143.22" stroke="#222" stroke-width="0.50" />
<line x1="503.50" y1="130.74" x2="506.40" y2="130.74" stroke="#222" stroke-width="0.90" />
<text transform="translate(499.70 133.29) scale(1.190 1)" font-size="7.00" fill="#222222" stroke="#222222" stroke-width="0.10" text-anchor="end" >20</text>
<line x1="678.00" y1="130.74" x2="680.20" y2="130.74" stroke="#222" stroke-width="0.60" />
<line x1="504.60" y1="118.26" x2="506.40" y2="118.26" stroke="#222" stroke-width="0.70" />
<line x1="678.90" y1="118.26" x2="680.20" y2="118.26" stroke="#222" stroke-width="0.50" />
<line x1="503.50" y1="105.78" x2="506.40" y2="105.78" stroke="#222" stroke-width="0.90" />
<text transform="translate(499.70 108.33) scale(1.190 1)" font-size="7.00" fill="#222222" stroke="#222222" stroke-width="0.10" text-anchor="end" >40</text>
<line x1="678.00" y1="105.78" x2="680.20" y2="105.78" stroke="#222" stroke-width="0.60" />
<line x1="504.60" y1="93.30" x2="506.40" y2="93.30" stroke="#222" stroke-width="0.70" />
<line x1="678.90" y1="93.30" x2="680.20" y2="93.30" stroke="#222" stroke-width="0.50" />
<line x1="503.50" y1="80.82" x2="506.40" y2="80.82" stroke="#222" stroke-width="0.90" />
<text transform="translate(499.70 83.37) scale(1.190 1)" font-size="7.00" fill="#222222" stroke="#222222" stroke-width="0.10" text-anchor="end" >60</text>
<line x1="678.00" y1="80.82" x2="680.20" y2="80.82" stroke="#222" stroke-width="0.60" />
<line x1="504.60" y1="68.34" x2="506.40" y2="68.34" stroke="#222" stroke-width="0.70" />
<line x1="678.90" y1="68.34" x2="680.20" y2="68.34" stroke="#222" stroke-width="0.50" />
<line x1="503.50" y1="55.86" x2="506.40" y2="55.86" stroke="#222" stroke-width="0.90" />
<text transform="translate(499.70 58.41) scale(1.190 1)" font-size="7.00" fill="#222222" stroke="#222222" stroke-width="0.10" text-anchor="end" >80</text>
<line x1="678.00" y1="55.86" x2="680.20" y2="55.86" stroke="#222" stroke-width="0.60" />
<line x1="504.60" y1="43.38" x2="506.40" y2="43.38" stroke="#222" stroke-width="0.70" />
<line x1="678.90" y1="43.38" x2="680.20" y2="43.38" stroke="#222" stroke-width="0.50" />
<line x1="503.50" y1="30.90" x2="506.40" y2="30.90" stroke="#222" stroke-width="0.90" />
<text transform="translate(499.70 33.45) scale(1.190 1)" font-size="7.00" fill="#222222" stroke="#222222" stroke-width="0.10" text-anchor="end" >100</text>
<line x1="678.00" y1="30.90" x2="680.20" y2="30.90" stroke="#222" stroke-width="0.60" />
<line x1="506.40" y1="155.70" x2="506.40" y2="158.70" stroke="#222" stroke-width="0.80" />
<line x1="506.40" y1="28.40" x2="506.40" y2="30.40" stroke="#222" stroke-width="0.60" />
<text transform="translate(506.40 168.00) scale(1.190 1)" font-size="7.00" fill="#222222" stroke="#222222" stroke-width="0.10" text-anchor="middle" >0</text>
<line x1="533.62" y1="155.70" x2="533.62" y2="158.70" stroke="#222" stroke-width="0.80" />
<line x1="533.62" y1="28.40" x2="533.62" y2="30.40" stroke="#222" stroke-width="0.60" />
<text transform="translate(533.62 168.00) scale(1.190 1)" font-size="7.00" fill="#222222" stroke="#222222" stroke-width="0.10" text-anchor="middle" >50</text>
<line x1="560.85" y1="155.70" x2="560.85" y2="158.70" stroke="#222" stroke-width="0.80" />
<line x1="560.85" y1="28.40" x2="560.85" y2="30.40" stroke="#222" stroke-width="0.60" />
<text transform="translate(560.85 168.00) scale(1.190 1)" font-size="7.00" fill="#222222" stroke="#222222" stroke-width="0.10" text-anchor="middle" >100</text>
<line x1="588.07" y1="155.70" x2="588.07" y2="158.70" stroke="#222" stroke-width="0.80" />
<line x1="588.07" y1="28.40" x2="588.07" y2="30.40" stroke="#222" stroke-width="0.60" />
<text transform="translate(588.07 168.00) scale(1.190 1)" font-size="7.00" fill="#222222" stroke="#222222" stroke-width="0.10" text-anchor="middle" >150</text>
<line x1="615.30" y1="155.70" x2="615.30" y2="158.70" stroke="#222" stroke-width="0.80" />
<line x1="615.30" y1="28.40" x2="615.30" y2="30.40" stroke="#222" stroke-width="0.60" />
<text transform="translate(615.30 168.00) scale(1.190 1)" font-size="7.00" fill="#222222" stroke="#222222" stroke-width="0.10" text-anchor="middle" >200</text>
<line x1="642.52" y1="155.70" x2="642.52" y2="158.70" stroke="#222" stroke-width="0.80" />
<line x1="642.52" y1="28.40" x2="642.52" y2="30.40" stroke="#222" stroke-width="0.60" />
<text transform="translate(642.52 168.00) scale(1.190 1)" font-size="7.00" fill="#222222" stroke="#222222" stroke-width="0.10" text-anchor="middle" >250</text>
<line x1="669.75" y1="155.70" x2="669.75" y2="158.70" stroke="#222" stroke-width="0.80" />
<line x1="669.75" y1="28.40" x2="669.75" y2="30.40" stroke="#222" stroke-width="0.60" />
<text transform="translate(669.75 168.00) scale(1.190 1)" font-size="7.00" fill="#222222" stroke="#222222" stroke-width="0.10" text-anchor="middle" >300</text>
<line x1="520.01" y1="155.70" x2="520.01" y2="157.50" stroke="#222" stroke-width="0.70" />
<line x1="520.01" y1="28.40" x2="520.01" y2="29.60" stroke="#222" stroke-width="0.50" />
<line x1="547.24" y1="155.70" x2="547.24" y2="157.50" stroke="#222" stroke-width="0.70" />
<line x1="547.24" y1="28.40" x2="547.24" y2="29.60" stroke="#222" stroke-width="0.50" />
<line x1="574.46" y1="155.70" x2="574.46" y2="157.50" stroke="#222" stroke-width="0.70" />
<line x1="574.46" y1="28.40" x2="574.46" y2="29.60" stroke="#222" stroke-width="0.50" />
<line x1="601.69" y1="155.70" x2="601.69" y2="157.50" stroke="#222" stroke-width="0.70" />
<line x1="601.69" y1="28.40" x2="601.69" y2="29.60" stroke="#222" stroke-width="0.50" />
<line x1="628.91" y1="155.70" x2="628.91" y2="157.50" stroke="#222" stroke-width="0.70" />
<line x1="628.91" y1="28.40" x2="628.91" y2="29.60" stroke="#222" stroke-width="0.50" />
<line x1="656.14" y1="155.70" x2="656.14" y2="157.50" stroke="#222" stroke-width="0.70" />
<line x1="656.14" y1="28.40" x2="656.14" y2="29.60" stroke="#222" stroke-width="0.50" />
<line x1="539.40" y1="135.90" x2="626.40" y2="150.60" stroke="#e08a3c" stroke-width="0.70" stroke-dasharray="1.8 1.6"/>
<line x1="638.30" y1="135.90" x2="671.50" y2="150.60" stroke="#e08a3c" stroke-width="0.70" stroke-dasharray="1.8 1.6"/>
<rect x="626.40" y="150.60" width="45.10" height="4.40" fill="none" stroke="#e08a3c" stroke-width="0.70" stroke-dasharray="1.8 1.6"/>
<rect x="539.40" y="56.70" width="98.90" height="72.60" fill="#fff" stroke="#222" stroke-width="0.80" />
<line x1="537.40" y1="56.70" x2="539.40" y2="56.70" stroke="#222" stroke-width="0.60" />
<text transform="translate(535.20 58.15) scale(1.120 1)" font-size="4.00" fill="#222222" stroke="#222222" stroke-width="0.00" text-anchor="end" font-weight="bold" >300</text>
<line x1="537.40" y1="72.00" x2="539.40" y2="72.00" stroke="#222" stroke-width="0.60" />
<text transform="translate(535.20 73.45) scale(1.120 1)" font-size="4.00" fill="#222222" stroke="#222222" stroke-width="0.00" text-anchor="end" font-weight="bold" >250</text>
<line x1="537.40" y1="88.20" x2="539.40" y2="88.20" stroke="#222" stroke-width="0.60" />
<text transform="translate(535.20 89.65) scale(1.120 1)" font-size="4.00" fill="#222222" stroke="#222222" stroke-width="0.00" text-anchor="end" font-weight="bold" >200</text>
<line x1="537.40" y1="103.50" x2="539.40" y2="103.50" stroke="#222" stroke-width="0.60" />
<text transform="translate(535.20 104.95) scale(1.120 1)" font-size="4.00" fill="#222222" stroke="#222222" stroke-width="0.00" text-anchor="end" font-weight="bold" >20</text>
<line x1="537.40" y1="116.30" x2="539.40" y2="116.30" stroke="#222" stroke-width="0.60" />
<text transform="translate(535.20 117.75) scale(1.120 1)" font-size="4.00" fill="#222222" stroke="#222222" stroke-width="0.00" text-anchor="end" font-weight="bold" >10</text>
<line x1="537.40" y1="129.30" x2="539.40" y2="129.30" stroke="#222" stroke-width="0.60" />
<text transform="translate(535.20 130.75) scale(1.120 1)" font-size="4.00" fill="#222222" stroke="#222222" stroke-width="0.00" text-anchor="end" font-weight="bold" >0</text>
<line x1="539.40" y1="129.30" x2="539.40" y2="130.90" stroke="#222" stroke-width="0.60" />
<text transform="translate(539.40 136.50) scale(1.120 1)" font-size="4.00" fill="#222222" stroke="#222222" stroke-width="0.00" text-anchor="middle" font-weight="bold" >220</text>
<line x1="564.12" y1="129.30" x2="564.12" y2="130.90" stroke="#222" stroke-width="0.60" />
<text transform="translate(564.12 136.50) scale(1.120 1)" font-size="4.00" fill="#222222" stroke="#222222" stroke-width="0.00" text-anchor="middle" font-weight="bold" >240</text>
<line x1="588.85" y1="129.30" x2="588.85" y2="130.90" stroke="#222" stroke-width="0.60" />
<text transform="translate(588.85 136.50) scale(1.120 1)" font-size="4.00" fill="#222222" stroke="#222222" stroke-width="0.00" text-anchor="middle" font-weight="bold" >260</text>
<line x1="613.57" y1="129.30" x2="613.57" y2="130.90" stroke="#222" stroke-width="0.60" />
<text transform="translate(613.57 136.50) scale(1.120 1)" font-size="4.00" fill="#222222" stroke="#222222" stroke-width="0.00" text-anchor="middle" font-weight="bold" >280</text>
<line x1="638.30" y1="129.30" x2="638.30" y2="130.90" stroke="#222" stroke-width="0.60" />
<text transform="translate(638.30 136.50) scale(1.120 1)" font-size="4.00" fill="#222222" stroke="#222222" stroke-width="0.00" text-anchor="middle" font-weight="bold" >300</text>
<line x1="539.40" y1="129.30" x2="539.40" y2="130.30" stroke="#222" stroke-width="0.50" />
<line x1="539.40" y1="56.70" x2="539.40" y2="57.70" stroke="#222" stroke-width="0.40" />
<line x1="551.76" y1="129.30" x2="551.76" y2="130.30" stroke="#222" stroke-width="0.50" />
<line x1="551.76" y1="56.70" x2="551.76" y2="57.70" stroke="#222" stroke-width="0.40" />
<line x1="564.12" y1="129.30" x2="564.12" y2="130.30" stroke="#222" stroke-width="0.50" />
<line x1="564.12" y1="56.70" x2="564.12" y2="57.70" stroke="#222" stroke-width="0.40" />
<line x1="576.49" y1="129.30" x2="576.49" y2="130.30" stroke="#222" stroke-width="0.50" />
<line x1="576.49" y1="56.70" x2="576.49" y2="57.70" stroke="#222" stroke-width="0.40" />
<line x1="588.85" y1="129.30" x2="588.85" y2="130.30" stroke="#222" stroke-width="0.50" />
<line x1="588.85" y1="56.70" x2="588.85" y2="57.70" stroke="#222" stroke-width="0.40" />
<line x1="601.21" y1="129.30" x2="601.21" y2="130.30" stroke="#222" stroke-width="0.50" />
<line x1="601.21" y1="56.70" x2="601.21" y2="57.70" stroke="#222" stroke-width="0.40" />
<line x1="613.57" y1="129.30" x2="613.57" y2="130.30" stroke="#222" stroke-width="0.50" />
<line x1="613.57" y1="56.70" x2="613.57" y2="57.70" stroke="#222" stroke-width="0.40" />
<line x1="625.94" y1="129.30" x2="625.94" y2="130.30" stroke="#222" stroke-width="0.50" />
<line x1="625.94" y1="56.70" x2="625.94" y2="57.70" stroke="#222" stroke-width="0.40" />
<line x1="638.30" y1="129.30" x2="638.30" y2="130.30" stroke="#222" stroke-width="0.50" />
<line x1="638.30" y1="56.70" x2="638.30" y2="57.70" stroke="#222" stroke-width="0.40" />
<line x1="637.30" y1="62.75" x2="638.30" y2="62.75" stroke="#222" stroke-width="0.40" />
<line x1="637.30" y1="68.80" x2="638.30" y2="68.80" stroke="#222" stroke-width="0.40" />
<line x1="637.30" y1="74.85" x2="638.30" y2="74.85" stroke="#222" stroke-width="0.40" />
<line x1="637.30" y1="80.90" x2="638.30" y2="80.90" stroke="#222" stroke-width="0.40" />
<line x1="637.30" y1="86.95" x2="638.30" y2="86.95" stroke="#222" stroke-width="0.40" />
<line x1="637.30" y1="93.00" x2="638.30" y2="93.00" stroke="#222" stroke-width="0.40" />
<line x1="637.30" y1="99.05" x2="638.30" y2="99.05" stroke="#222" stroke-width="0.40" />
<line x1="637.30" y1="105.10" x2="638.30" y2="105.10" stroke="#222" stroke-width="0.40" />
<line x1="637.30" y1="111.15" x2="638.30" y2="111.15" stroke="#222" stroke-width="0.40" />
<line x1="637.30" y1="117.20" x2="638.30" y2="117.20" stroke="#222" stroke-width="0.40" />
<line x1="637.30" y1="123.25" x2="638.30" y2="123.25" stroke="#222" stroke-width="0.40" />
<line x1="537.60" y1="97.20" x2="541.20" y2="96.00" stroke="#222" stroke-width="0.60" />
<line x1="537.60" y1="96.00" x2="541.20" y2="94.80" stroke="#222" stroke-width="0.60" />
<text transform="translate(523.50 90.50) rotate(-90) scale(1.100 1)" font-size="4.40" fill="#222222" stroke="#222222" stroke-width="0.00" text-anchor="middle" font-weight="bold" >ppm</text>
<line x1="539.40" y1="123.00" x2="638.30" y2="123.00" stroke="#2a2ad0" stroke-width="0.85" stroke-dasharray="2.3 2.0"/>
<text transform="translate(613.20 115.50)" font-size="5.50" fill="#3434d8" stroke="#3434d8" stroke-width="0.10" >5 ppm</text>
<line x1="621.00" y1="118.60" x2="619.40" y2="122.40" stroke="#111" stroke-width="0.60" />
<path d="M618.90 122.10l2.0 -0.6l-0.9 2.0z" fill="#111"/>
<polyline points="540.40,128.50 584.00,128.50" fill="none" stroke="#2fae40" stroke-width="1.50" stroke-linejoin="round" stroke-linecap="round"/>
<polyline points="553.10,128.90 553.40,116.00" fill="none" stroke="#7a1515" stroke-width="0.75" stroke-linejoin="round" />
<polyline points="553.40,116.00 555.60,99.50 557.00,57.10" fill="none" stroke="#e8262a" stroke-width="0.75" stroke-linejoin="round" stroke-dasharray="0.9 0.8"/>
<polyline points="554.00,128.90 556.60,96.00 558.40,57.10" fill="none" stroke="#555" stroke-width="0.70" stroke-linejoin="round" stroke-dasharray="0.9 0.8"/>
<polyline points="583.40,128.90 585.00,96.00 588.70,73.70 589.40,57.10" fill="none" stroke="#24a334" stroke-width="0.75" stroke-linejoin="round" stroke-dasharray="0.9 0.8"/>
<circle cx="555.60" cy="99.50" r="1.30" fill="#fff" stroke="#e8262a" stroke-width="0.60"/>
<circle cx="588.70" cy="73.70" r="1.40" fill="#fff" stroke="#24a334" stroke-width="0.60"/>
<polyline points="504.90,155.10 671.38,155.10" fill="none" stroke="#24a334" stroke-width="2.60" stroke-linejoin="round" stroke-linecap="round"/>
<polyline points="642.52,154.40 671.38,154.40" fill="none" stroke="#24a334" stroke-width="2.60" stroke-linejoin="round" stroke-linecap="round"/>
<path d="M632.8 154.6 L635.5 152.6 L638.2 151.4 L640.6 151.3 L643.5 152.2 L646.5 152.7 L649.8 154.0Z" fill="#1f8f86"/>
<line x1="518.70" y1="154.50" x2="518.70" y2="31.20" stroke="#9b62f2" stroke-width="1.30" stroke-dasharray="1.4 1.9"/>
<polyline points="519.30,30.90 632.50,30.90" fill="none" stroke="#8a3cf0" stroke-width="4.00" stroke-linejoin="round" stroke-linecap="round"/>
<polyline points="519.30,30.90 632.50,30.90" fill="none" stroke="#b48cf2" stroke-width="0.88" stroke-linejoin="round" stroke-dasharray="0.8 1.0"/>
<polyline points="632.50,31.00 636.50,34.30 670.00,34.50" fill="none" stroke="#8a3cf0" stroke-width="3.40" stroke-linejoin="round" stroke-linecap="round"/>
<polyline points="632.50,31.00 636.50,34.30 670.00,34.50" fill="none" stroke="#c9a6f5" stroke-width="0.75" stroke-linejoin="round" stroke-dasharray="0.8 1.0"/>
<circle cx="669.90" cy="34.50" r="1.70" fill="#fff" stroke="#8a3cf0" stroke-width="0.70"/>
<circle cx="520.00" cy="30.80" r="1.50" fill="#fff" stroke="#8a3cf0" stroke-width="0.70"/>
<circle cx="671.38" cy="154.60" r="1.50" fill="#fff" stroke="#24a334" stroke-width="0.70"/>
<text transform="translate(659.30 52.10) scale(1.120 1)" font-size="5.00" fill="#2a2ad0" stroke="#2a2ad0" stroke-width="0.00" text-anchor="middle" font-weight="bold" >50% RH</text>
<line x1="641.10" y1="58.40" x2="657.90" y2="58.40" stroke="#8a3cf0" stroke-width="0.90" stroke-dasharray="1.5 1.3"/>
<circle cx="649.30" cy="58.40" r="1.35" fill="#fff" stroke="#8a3cf0" stroke-width="0.70"/>
<text transform="translate(660.30 60.40) scale(1.020 1)" font-size="5.50" fill="#222222" stroke="#222222" stroke-width="0.10" >C<tspan dy="1.87" font-size="3.52">2</tspan><tspan dy="-1.87">H</tspan><tspan dy="1.87" font-size="3.52">4</tspan></text>
<line x1="641.10" y1="68.90" x2="657.90" y2="68.90" stroke="#e8262a" stroke-width="0.90" stroke-dasharray="1.5 1.3"/>
<circle cx="649.30" cy="68.90" r="1.35" fill="#fff" stroke="#e8262a" stroke-width="0.70"/>
<text transform="translate(660.30 70.90) scale(1.020 1)" font-size="5.50" fill="#222222" stroke="#222222" stroke-width="0.10" >C<tspan dy="1.87" font-size="3.52">2</tspan><tspan dy="-1.87">H</tspan><tspan dy="1.87" font-size="3.52">2</tspan></text>
<line x1="641.10" y1="79.40" x2="657.90" y2="79.40" stroke="#24a334" stroke-width="0.90" stroke-dasharray="1.5 1.3"/>
<circle cx="649.30" cy="79.40" r="1.35" fill="#fff" stroke="#24a334" stroke-width="0.70"/>
<text transform="translate(660.30 81.40) scale(1.020 1)" font-size="5.50" fill="#222222" stroke="#222222" stroke-width="0.10" >C<tspan dy="1.87" font-size="3.52">3</tspan><tspan dy="-1.87">H</tspan><tspan dy="1.87" font-size="3.52">4</tspan></text>
<line x1="641.10" y1="90.00" x2="657.90" y2="90.00" stroke="#1f8f86" stroke-width="0.90" stroke-dasharray="1.5 1.3"/>
<circle cx="649.30" cy="90.00" r="1.35" fill="#fff" stroke="#1f8f86" stroke-width="0.70"/>
<text transform="translate(660.30 92.00) scale(1.020 1)" font-size="5.50" fill="#222222" stroke="#222222" stroke-width="0.10" >1-C<tspan dy="1.87" font-size="3.52">4</tspan><tspan dy="-1.87">H</tspan><tspan dy="1.87" font-size="3.52">6</tspan></text>
<text transform="translate(641.30 105.50) scale(1.090 1)" font-size="7.20" fill="#222222" stroke="#222222" stroke-width="0.10" >4 ml min<tspan dy="-2.8" font-size="5">−1</tspan></text>
<text transform="translate(11.60 208.40) scale(1.080 1)" font-size="11.30" fill="#111" stroke="#111" stroke-width="0.30" font-weight="bold" >d</text>
<text transform="translate(134.30 206.60) scale(1.188 1)" font-size="7.20" fill="#222222" stroke="#222222" stroke-width="0.10" text-anchor="middle" >C<tspan dy="2.45" font-size="4.61">2</tspan><tspan dy="-2.45">H</tspan><tspan dy="2.45" font-size="4.61">2</tspan><tspan dy="-2.45">/C</tspan><tspan dy="2.45" font-size="4.61">3</tspan><tspan dy="-2.45">H</tspan><tspan dy="2.45" font-size="4.61">4</tspan><tspan dy="-2.45">/1-C</tspan><tspan dy="2.45" font-size="4.61">4</tspan><tspan dy="-2.45">H</tspan><tspan dy="2.45" font-size="4.61">6</tspan><tspan dy="-2.45">/C</tspan><tspan dy="2.45" font-size="4.61">2</tspan><tspan dy="-2.45">H</tspan><tspan dy="2.45" font-size="4.61">4</tspan><tspan dy="-2.45"> (</tspan>1:1:1:97)</text>
<text transform="translate(17.60 277.00) rotate(-90) scale(1.220 1)" font-size="7.40" fill="#222222" stroke="#222222" stroke-width="0.10" text-anchor="middle" >Outlet concentration (mol %)</text>
<text transform="translate(135.10 367.30) scale(1.195 1)" font-size="7.40" fill="#222222" stroke="#222222" stroke-width="0.10" text-anchor="middle" >Breakthrough (min g<tspan dy="-2.6" font-size="5">−1</tspan><tspan dy="2.6">)</tspan></text>
<line x1="45.00" y1="340.90" x2="47.90" y2="340.90" stroke="#222" stroke-width="0.90" />
<text transform="translate(41.20 343.45) scale(1.190 1)" font-size="7.00" fill="#222222" stroke="#222222" stroke-width="0.10" text-anchor="end" >0</text>
<line x1="219.70" y1="340.90" x2="221.90" y2="340.90" stroke="#222" stroke-width="0.60" />
<line x1="46.10" y1="328.35" x2="47.90" y2="328.35" stroke="#222" stroke-width="0.70" />
<line x1="220.60" y1="328.35" x2="221.90" y2="328.35" stroke="#222" stroke-width="0.50" />
<line x1="45.00" y1="315.80" x2="47.90" y2="315.80" stroke="#222" stroke-width="0.90" />
<text transform="translate(41.20 318.35) scale(1.190 1)" font-size="7.00" fill="#222222" stroke="#222222" stroke-width="0.10" text-anchor="end" >20</text>
<line x1="219.70" y1="315.80" x2="221.90" y2="315.80" stroke="#222" stroke-width="0.60" />
<line x1="46.10" y1="303.25" x2="47.90" y2="303.25" stroke="#222" stroke-width="0.70" />
<line x1="220.60" y1="303.25" x2="221.90" y2="303.25" stroke="#222" stroke-width="0.50" />
<line x1="45.00" y1="290.70" x2="47.90" y2="290.70" stroke="#222" stroke-width="0.90" />
<text transform="translate(41.20 293.25) scale(1.190 1)" font-size="7.00" fill="#222222" stroke="#222222" stroke-width="0.10" text-anchor="end" >40</text>
<line x1="219.70" y1="290.70" x2="221.90" y2="290.70" stroke="#222" stroke-width="0.60" />
<line x1="46.10" y1="278.15" x2="47.90" y2="278.15" stroke="#222" stroke-width="0.70" />
<line x1="220.60" y1="278.15" x2="221.90" y2="278.15" stroke="#222" stroke-width="0.50" />
<line x1="45.00" y1="265.60" x2="47.90" y2="265.60" stroke="#222" stroke-width="0.90" />
<text transform="translate(41.20 268.15) scale(1.190 1)" font-size="7.00" fill="#222222" stroke="#222222" stroke-width="0.10" text-anchor="end" >60</text>
<line x1="219.70" y1="265.60" x2="221.90" y2="265.60" stroke="#222" stroke-width="0.60" />
<line x1="46.10" y1="253.05" x2="47.90" y2="253.05" stroke="#222" stroke-width="0.70" />
<line x1="220.60" y1="253.05" x2="221.90" y2="253.05" stroke="#222" stroke-width="0.50" />
<line x1="45.00" y1="240.50" x2="47.90" y2="240.50" stroke="#222" stroke-width="0.90" />
<text transform="translate(41.20 243.05) scale(1.190 1)" font-size="7.00" fill="#222222" stroke="#222222" stroke-width="0.10" text-anchor="end" >80</text>
<line x1="219.70" y1="240.50" x2="221.90" y2="240.50" stroke="#222" stroke-width="0.60" />
<line x1="46.10" y1="227.95" x2="47.90" y2="227.95" stroke="#222" stroke-width="0.70" />
<line x1="220.60" y1="227.95" x2="221.90" y2="227.95" stroke="#222" stroke-width="0.50" />
<line x1="45.00" y1="215.40" x2="47.90" y2="215.40" stroke="#222" stroke-width="0.90" />
<text transform="translate(41.20 217.95) scale(1.190 1)" font-size="7.00" fill="#222222" stroke="#222222" stroke-width="0.10" text-anchor="end" >100</text>
<line x1="219.70" y1="215.40" x2="221.90" y2="215.40" stroke="#222" stroke-width="0.60" />
<line x1="47.90" y1="340.90" x2="47.90" y2="343.90" stroke="#222" stroke-width="0.80" />
<line x1="47.90" y1="213.20" x2="47.90" y2="215.20" stroke="#222" stroke-width="0.60" />
<text transform="translate(47.90 353.20) scale(1.190 1)" font-size="7.00" fill="#222222" stroke="#222222" stroke-width="0.10" text-anchor="middle" >0</text>
<line x1="87.60" y1="340.90" x2="87.60" y2="343.90" stroke="#222" stroke-width="0.80" />
<line x1="87.60" y1="213.20" x2="87.60" y2="215.20" stroke="#222" stroke-width="0.60" />
<text transform="translate(87.60 353.20) scale(1.190 1)" font-size="7.00" fill="#222222" stroke="#222222" stroke-width="0.10" text-anchor="middle" >50</text>
<line x1="127.30" y1="340.90" x2="127.30" y2="343.90" stroke="#222" stroke-width="0.80" />
<line x1="127.30" y1="213.20" x2="127.30" y2="215.20" stroke="#222" stroke-width="0.60" />
<text transform="translate(127.30 353.20) scale(1.190 1)" font-size="7.00" fill="#222222" stroke="#222222" stroke-width="0.10" text-anchor="middle" >100</text>
<line x1="167.00" y1="340.90" x2="167.00" y2="343.90" stroke="#222" stroke-width="0.80" />
<line x1="167.00" y1="213.20" x2="167.00" y2="215.20" stroke="#222" stroke-width="0.60" />
<text transform="translate(167.00 353.20) scale(1.190 1)" font-size="7.00" fill="#222222" stroke="#222222" stroke-width="0.10" text-anchor="middle" >150</text>
<line x1="206.70" y1="340.90" x2="206.70" y2="343.90" stroke="#222" stroke-width="0.80" />
<line x1="206.70" y1="213.20" x2="206.70" y2="215.20" stroke="#222" stroke-width="0.60" />
<text transform="translate(206.70 353.20) scale(1.190 1)" font-size="7.00" fill="#222222" stroke="#222222" stroke-width="0.10" text-anchor="middle" >200</text>
<line x1="67.75" y1="340.90" x2="67.75" y2="342.70" stroke="#222" stroke-width="0.70" />
<line x1="67.75" y1="213.20" x2="67.75" y2="214.40" stroke="#222" stroke-width="0.50" />
<line x1="107.45" y1="340.90" x2="107.45" y2="342.70" stroke="#222" stroke-width="0.70" />
<line x1="107.45" y1="213.20" x2="107.45" y2="214.40" stroke="#222" stroke-width="0.50" />
<line x1="147.15" y1="340.90" x2="147.15" y2="342.70" stroke="#222" stroke-width="0.70" />
<line x1="147.15" y1="213.20" x2="147.15" y2="214.40" stroke="#222" stroke-width="0.50" />
<line x1="186.85" y1="340.90" x2="186.85" y2="342.70" stroke="#222" stroke-width="0.70" />
<line x1="186.85" y1="213.20" x2="186.85" y2="214.40" stroke="#222" stroke-width="0.50" />
<line x1="81.90" y1="318.90" x2="171.00" y2="335.90" stroke="#e08a3c" stroke-width="0.70" stroke-dasharray="1.8 1.6"/>
<line x1="179.40" y1="318.90" x2="207.00" y2="335.90" stroke="#e08a3c" stroke-width="0.70" stroke-dasharray="1.8 1.6"/>
<rect x="171.00" y="335.90" width="36.00" height="4.40" fill="none" stroke="#e08a3c" stroke-width="0.70" stroke-dasharray="1.8 1.6"/>
<rect x="81.90" y="239.30" width="97.50" height="71.30" fill="#fff" stroke="#222" stroke-width="0.80" />
<line x1="79.90" y1="239.50" x2="81.90" y2="239.50" stroke="#222" stroke-width="0.60" />
<text transform="translate(77.70 240.95) scale(1.120 1)" font-size="4.00" fill="#222222" stroke="#222222" stroke-width="0.00" text-anchor="end" font-weight="bold" >500</text>
<line x1="79.90" y1="253.40" x2="81.90" y2="253.40" stroke="#222" stroke-width="0.60" />
<text transform="translate(77.70 254.85) scale(1.120 1)" font-size="4.00" fill="#222222" stroke="#222222" stroke-width="0.00" text-anchor="end" font-weight="bold" >400</text>
<line x1="79.90" y1="267.60" x2="81.90" y2="267.60" stroke="#222" stroke-width="0.60" />
<text transform="translate(77.70 269.05) scale(1.120 1)" font-size="4.00" fill="#222222" stroke="#222222" stroke-width="0.00" text-anchor="end" font-weight="bold" >300</text>
<line x1="79.90" y1="281.80" x2="81.90" y2="281.80" stroke="#222" stroke-width="0.60" />
<text transform="translate(77.70 283.25) scale(1.120 1)" font-size="4.00" fill="#222222" stroke="#222222" stroke-width="0.00" text-anchor="end" font-weight="bold" >200</text>
<line x1="79.90" y1="288.40" x2="81.90" y2="288.40" stroke="#222" stroke-width="0.60" />
<text transform="translate(77.70 289.85) scale(1.120 1)" font-size="4.00" fill="#222222" stroke="#222222" stroke-width="0.00" text-anchor="end" font-weight="bold" >20</text>
<line x1="79.90" y1="299.30" x2="81.90" y2="299.30" stroke="#222" stroke-width="0.60" />
<text transform="translate(77.70 300.75) scale(1.120 1)" font-size="4.00" fill="#222222" stroke="#222222" stroke-width="0.00" text-anchor="end" font-weight="bold" >10</text>
<line x1="79.90" y1="310.70" x2="81.90" y2="310.70" stroke="#222" stroke-width="0.60" />
<text transform="translate(77.70 312.15) scale(1.120 1)" font-size="4.00" fill="#222222" stroke="#222222" stroke-width="0.00" text-anchor="end" font-weight="bold" >0</text>
<line x1="81.90" y1="310.60" x2="81.90" y2="312.20" stroke="#222" stroke-width="0.60" />
<text transform="translate(81.90 317.80) scale(1.120 1)" font-size="4.00" fill="#222222" stroke="#222222" stroke-width="0.00" text-anchor="middle" font-weight="bold" >160</text>
<line x1="106.28" y1="310.60" x2="106.28" y2="312.20" stroke="#222" stroke-width="0.60" />
<text transform="translate(106.28 317.80) scale(1.120 1)" font-size="4.00" fill="#222222" stroke="#222222" stroke-width="0.00" text-anchor="middle" font-weight="bold" >170</text>
<line x1="130.65" y1="310.60" x2="130.65" y2="312.20" stroke="#222" stroke-width="0.60" />
<text transform="translate(130.65 317.80) scale(1.120 1)" font-size="4.00" fill="#222222" stroke="#222222" stroke-width="0.00" text-anchor="middle" font-weight="bold" >180</text>
<line x1="155.03" y1="310.60" x2="155.03" y2="312.20" stroke="#222" stroke-width="0.60" />
<text transform="translate(155.03 317.80) scale(1.120 1)" font-size="4.00" fill="#222222" stroke="#222222" stroke-width="0.00" text-anchor="middle" font-weight="bold" >190</text>
<line x1="179.40" y1="310.60" x2="179.40" y2="312.20" stroke="#222" stroke-width="0.60" />
<text transform="translate(179.40 317.80) scale(1.120 1)" font-size="4.00" fill="#222222" stroke="#222222" stroke-width="0.00" text-anchor="middle" font-weight="bold" >200</text>
<line x1="81.90" y1="310.60" x2="81.90" y2="311.60" stroke="#222" stroke-width="0.50" />
<line x1="81.90" y1="239.30" x2="81.90" y2="240.30" stroke="#222" stroke-width="0.40" />
<line x1="94.09" y1="310.60" x2="94.09" y2="311.60" stroke="#222" stroke-width="0.50" />
<line x1="94.09" y1="239.30" x2="94.09" y2="240.30" stroke="#222" stroke-width="0.40" />
<line x1="106.28" y1="310.60" x2="106.28" y2="311.60" stroke="#222" stroke-width="0.50" />
<line x1="106.28" y1="239.30" x2="106.28" y2="240.30" stroke="#222" stroke-width="0.40" />
<line x1="118.46" y1="310.60" x2="118.46" y2="311.60" stroke="#222" stroke-width="0.50" />
<line x1="118.46" y1="239.30" x2="118.46" y2="240.30" stroke="#222" stroke-width="0.40" />
<line x1="130.65" y1="310.60" x2="130.65" y2="311.60" stroke="#222" stroke-width="0.50" />
<line x1="130.65" y1="239.30" x2="130.65" y2="240.30" stroke="#222" stroke-width="0.40" />
<line x1="142.84" y1="310.60" x2="142.84" y2="311.60" stroke="#222" stroke-width="0.50" />
<line x1="142.84" y1="239.30" x2="142.84" y2="240.30" stroke="#222" stroke-width="0.40" />
<line x1="155.03" y1="310.60" x2="155.03" y2="311.60" stroke="#222" stroke-width="0.50" />
<line x1="155.03" y1="239.30" x2="155.03" y2="240.30" stroke="#222" stroke-width="0.40" />
<line x1="167.21" y1="310.60" x2="167.21" y2="311.60" stroke="#222" stroke-width="0.50" />
<line x1="167.21" y1="239.30" x2="167.21" y2="240.30" stroke="#222" stroke-width="0.40" />
<line x1="179.40" y1="310.60" x2="179.40" y2="311.60" stroke="#222" stroke-width="0.50" />
<line x1="179.40" y1="239.30" x2="179.40" y2="240.30" stroke="#222" stroke-width="0.40" />
<line x1="178.40" y1="245.24" x2="179.40" y2="245.24" stroke="#222" stroke-width="0.40" />
<line x1="178.40" y1="251.18" x2="179.40" y2="251.18" stroke="#222" stroke-width="0.40" />
<line x1="178.40" y1="257.12" x2="179.40" y2="257.12" stroke="#222" stroke-width="0.40" />
<line x1="178.40" y1="263.07" x2="179.40" y2="263.07" stroke="#222" stroke-width="0.40" />
<line x1="178.40" y1="269.01" x2="179.40" y2="269.01" stroke="#222" stroke-width="0.40" />
<line x1="178.40" y1="274.95" x2="179.40" y2="274.95" stroke="#222" stroke-width="0.40" />
<line x1="178.40" y1="280.89" x2="179.40" y2="280.89" stroke="#222" stroke-width="0.40" />
<line x1="178.40" y1="286.83" x2="179.40" y2="286.83" stroke="#222" stroke-width="0.40" />
<line x1="178.40" y1="292.78" x2="179.40" y2="292.78" stroke="#222" stroke-width="0.40" />
<line x1="178.40" y1="298.72" x2="179.40" y2="298.72" stroke="#222" stroke-width="0.40" />
<line x1="178.40" y1="304.66" x2="179.40" y2="304.66" stroke="#222" stroke-width="0.40" />
<line x1="80.10" y1="285.50" x2="83.70" y2="284.30" stroke="#222" stroke-width="0.60" />
<line x1="80.10" y1="284.30" x2="83.70" y2="283.10" stroke="#222" stroke-width="0.60" />
<text transform="translate(66.00 272.45) rotate(-90) scale(1.100 1)" font-size="4.40" fill="#222222" stroke="#222222" stroke-width="0.00" text-anchor="middle" font-weight="bold" >ppm</text>
<line x1="81.90" y1="305.30" x2="179.40" y2="305.30" stroke="#2a2ad0" stroke-width="0.85" stroke-dasharray="2.3 2.0"/>
<text transform="translate(84.90 297.80)" font-size="5.50" fill="#3434d8" stroke="#3434d8" stroke-width="0.10" >5 ppm</text>
<line x1="87.60" y1="300.60" x2="86.00" y2="304.70" stroke="#111" stroke-width="0.60" />
<path d="M85.50 304.40l2.0 -0.6l-0.9 2.0z" fill="#111"/>
<polyline points="82.90,310.10 157.00,310.10" fill="none" stroke="#3db44c" stroke-width="1.10" stroke-linejoin="round" stroke-linecap="round"/>
<polyline points="112.80,310.40 117.80,283.30 121.40,256.00 121.60,239.90" fill="none" stroke="#e8262a" stroke-width="0.75" stroke-linejoin="round" />
<polyline points="113.30,310.40 120.90,282.00 123.40,252.90 123.60,239.90" fill="none" stroke="#3b6e9a" stroke-width="0.75" stroke-linejoin="round" />
<polyline points="157.20,310.40 157.70,298.60 158.90,282.00 162.70,269.90 164.80,247.80 165.30,239.90" fill="none" stroke="#24a334" stroke-width="0.75" stroke-linejoin="round" />
<path d="M116.60 282.34L119.00 282.34L117.80 284.38Z" fill="#e8262a" stroke="#e8262a" stroke-width="0.60"/>
<path d="M120.20 255.04L122.60 255.04L121.40 257.08Z" fill="#e8262a" stroke="#e8262a" stroke-width="0.60"/>
<circle cx="162.70" cy="269.90" r="1.20" fill="#fff" stroke="#24a334" stroke-width="0.60"/>
<polyline points="46.90,340.30 61.00,340.30" fill="none" stroke="#24a334" stroke-width="2.60" stroke-linejoin="round" stroke-linecap="round"/>
<polyline points="61.00,340.20 219.30,340.20" fill="none" stroke="#24a334" stroke-width="1.90" stroke-linejoin="round" stroke-linecap="round"/>
<polyline points="189.23,339.60 219.00,339.60" fill="none" stroke="#24a334" stroke-width="2.40" stroke-linejoin="round" stroke-linecap="round"/>
<path d="M186.6 340 L189.5 337.9 L192.4 336.7 L195.5 337.4 L198.5 338.3 L200.8 340Z" fill="#3f9296"/>
<line x1="62.00" y1="339.80" x2="62.10" y2="215.30" stroke="#9b62f2" stroke-width="1.70" />
<polyline points="62.30,215.30 186.50,215.30" fill="none" stroke="#8a3cf0" stroke-width="3.70" stroke-linejoin="round" stroke-linecap="round"/>
<polyline points="186.50,215.50 190.10,219.10 217.60,219.30" fill="none" stroke="#8a3cf0" stroke-width="3.50" stroke-linejoin="round" stroke-linecap="round"/>
<polyline points="186.50,215.50 190.10,219.10 217.60,219.30" fill="none" stroke="#d9c0f8" stroke-width="0.77" stroke-linejoin="round" stroke-dasharray="0.8 1.0"/>
<path d="M215.50 219.30L217.60 217.20L219.70 219.30L217.60 221.40Z" fill="#fff" stroke="#8a3cf0" stroke-width="0.70"/>
<circle cx="218.80" cy="339.90" r="1.50" fill="#fff" stroke="#24a334" stroke-width="0.70"/>
<text transform="translate(200.00 233.80) scale(1.120 1)" font-size="5.00" fill="#2a2ad0" stroke="#2a2ad0" stroke-width="0.00" text-anchor="middle" font-weight="bold" >0% RH</text>
<line x1="182.40" y1="240.00" x2="197.80" y2="240.00" stroke="#8a3cf0" stroke-width="0.85" />
<path d="M188.20 240.00L190.10 238.10L192.00 240.00L190.10 241.90Z" fill="#fff" stroke="#8a3cf0" stroke-width="0.70"/>
<text transform="translate(202.00 242.00) scale(1.020 1)" font-size="5.50" fill="#222222" stroke="#222222" stroke-width="0.10" >C<tspan dy="1.87" font-size="3.52">2</tspan><tspan dy="-1.87">H</tspan><tspan dy="1.87" font-size="3.52">4</tspan></text>
<line x1="182.40" y1="250.70" x2="197.80" y2="250.70" stroke="#e8262a" stroke-width="0.85" />
<path d="M188.50 249.42L191.70 249.42L190.10 252.14Z" fill="#fff" stroke="#e8262a" stroke-width="0.70"/>
<text transform="translate(202.00 252.70) scale(1.020 1)" font-size="5.50" fill="#222222" stroke="#222222" stroke-width="0.10" >C<tspan dy="1.87" font-size="3.52">2</tspan><tspan dy="-1.87">H</tspan><tspan dy="1.87" font-size="3.52">2</tspan></text>
<line x1="182.40" y1="261.40" x2="197.80" y2="261.40" stroke="#24a334" stroke-width="0.85" />
<circle cx="190.10" cy="261.40" r="1.60" fill="#fff" stroke="#24a334" stroke-width="0.70"/>
<text transform="translate(202.00 263.40) scale(1.020 1)" font-size="5.50" fill="#222222" stroke="#222222" stroke-width="0.10" >C<tspan dy="1.87" font-size="3.52">3</tspan><tspan dy="-1.87">H</tspan><tspan dy="1.87" font-size="3.52">4</tspan></text>
<line x1="182.40" y1="271.90" x2="197.80" y2="271.90" stroke="#3b6e9a" stroke-width="0.85" />
<circle cx="190.10" cy="271.90" r="1.60" fill="#fff" stroke="#3b6e9a" stroke-width="0.70"/>
<text transform="translate(202.00 273.90) scale(1.020 1)" font-size="5.50" fill="#222222" stroke="#222222" stroke-width="0.10" >1-C<tspan dy="1.87" font-size="3.52">4</tspan><tspan dy="-1.87">H</tspan><tspan dy="1.87" font-size="3.52">6</tspan></text>
<text transform="translate(181.90 288.70) scale(1.090 1)" font-size="7.20" fill="#222222" stroke="#222222" stroke-width="0.10" >6 ml min<tspan dy="-2.8" font-size="5">−1</tspan></text>
<text transform="translate(241.00 208.40) scale(1.080 1)" font-size="11.30" fill="#111" stroke="#111" stroke-width="0.30" font-weight="bold" >e</text>
<text transform="translate(364.70 207.00) scale(1.188 1)" font-size="7.20" fill="#222222" stroke="#222222" stroke-width="0.10" text-anchor="middle" >C<tspan dy="2.45" font-size="4.61">2</tspan><tspan dy="-2.45">H</tspan><tspan dy="2.45" font-size="4.61">2</tspan><tspan dy="-2.45">/C</tspan><tspan dy="2.45" font-size="4.61">3</tspan><tspan dy="-2.45">H</tspan><tspan dy="2.45" font-size="4.61">4</tspan><tspan dy="-2.45">/1-C</tspan><tspan dy="2.45" font-size="4.61">4</tspan><tspan dy="-2.45">H</tspan><tspan dy="2.45" font-size="4.61">6</tspan><tspan dy="-2.45">/C</tspan><tspan dy="2.45" font-size="4.61">2</tspan><tspan dy="-2.45">H</tspan><tspan dy="2.45" font-size="4.61">4</tspan><tspan dy="-2.45"> (</tspan>1:1:1:97)</text>
<text transform="translate(247.20 277.00) rotate(-90) scale(1.220 1)" font-size="7.40" fill="#222222" stroke="#222222" stroke-width="0.10" text-anchor="middle" >Outlet concentration (mol %)</text>
<text transform="translate(365.30 367.30) scale(1.195 1)" font-size="7.40" fill="#222222" stroke="#222222" stroke-width="0.10" text-anchor="middle" >Breakthrough (min g<tspan dy="-2.6" font-size="5">−1</tspan><tspan dy="2.6">)</tspan></text>
<line x1="274.80" y1="340.90" x2="277.70" y2="340.90" stroke="#222" stroke-width="0.90" />
<text transform="translate(271.00 343.45) scale(1.190 1)" font-size="7.00" fill="#222222" stroke="#222222" stroke-width="0.10" text-anchor="end" >0</text>
<line x1="450.30" y1="340.90" x2="452.50" y2="340.90" stroke="#222" stroke-width="0.60" />
<line x1="275.90" y1="328.28" x2="277.70" y2="328.28" stroke="#222" stroke-width="0.70" />
<line x1="451.20" y1="328.28" x2="452.50" y2="328.28" stroke="#222" stroke-width="0.50" />
<line x1="274.80" y1="315.66" x2="277.70" y2="315.66" stroke="#222" stroke-width="0.90" />
<text transform="translate(271.00 318.21) scale(1.190 1)" font-size="7.00" fill="#222222" stroke="#222222" stroke-width="0.10" text-anchor="end" >20</text>
<line x1="450.30" y1="315.66" x2="452.50" y2="315.66" stroke="#222" stroke-width="0.60" />
<line x1="275.90" y1="303.04" x2="277.70" y2="303.04" stroke="#222" stroke-width="0.70" />
<line x1="451.20" y1="303.04" x2="452.50" y2="303.04" stroke="#222" stroke-width="0.50" />
<line x1="274.80" y1="290.42" x2="277.70" y2="290.42" stroke="#222" stroke-width="0.90" />
<text transform="translate(271.00 292.97) scale(1.190 1)" font-size="7.00" fill="#222222" stroke="#222222" stroke-width="0.10" text-anchor="end" >40</text>
<line x1="450.30" y1="290.42" x2="452.50" y2="290.42" stroke="#222" stroke-width="0.60" />
<line x1="275.90" y1="277.80" x2="277.70" y2="277.80" stroke="#222" stroke-width="0.70" />
<line x1="451.20" y1="277.80" x2="452.50" y2="277.80" stroke="#222" stroke-width="0.50" />
<line x1="274.80" y1="265.18" x2="277.70" y2="265.18" stroke="#222" stroke-width="0.90" />
<text transform="translate(271.00 267.73) scale(1.190 1)" font-size="7.00" fill="#222222" stroke="#222222" stroke-width="0.10" text-anchor="end" >60</text>
<line x1="450.30" y1="265.18" x2="452.50" y2="265.18" stroke="#222" stroke-width="0.60" />
<line x1="275.90" y1="252.56" x2="277.70" y2="252.56" stroke="#222" stroke-width="0.70" />
<line x1="451.20" y1="252.56" x2="452.50" y2="252.56" stroke="#222" stroke-width="0.50" />
<line x1="274.80" y1="239.94" x2="277.70" y2="239.94" stroke="#222" stroke-width="0.90" />
<text transform="translate(271.00 242.49) scale(1.190 1)" font-size="7.00" fill="#222222" stroke="#222222" stroke-width="0.10" text-anchor="end" >80</text>
<line x1="450.30" y1="239.94" x2="452.50" y2="239.94" stroke="#222" stroke-width="0.60" />
<line x1="275.90" y1="227.32" x2="277.70" y2="227.32" stroke="#222" stroke-width="0.70" />
<line x1="451.20" y1="227.32" x2="452.50" y2="227.32" stroke="#222" stroke-width="0.50" />
<line x1="274.80" y1="214.70" x2="277.70" y2="214.70" stroke="#222" stroke-width="0.90" />
<text transform="translate(271.00 217.25) scale(1.190 1)" font-size="7.00" fill="#222222" stroke="#222222" stroke-width="0.10" text-anchor="end" >100</text>
<line x1="450.30" y1="214.70" x2="452.50" y2="214.70" stroke="#222" stroke-width="0.60" />
<line x1="277.70" y1="340.90" x2="277.70" y2="343.90" stroke="#222" stroke-width="0.80" />
<line x1="277.70" y1="212.50" x2="277.70" y2="214.50" stroke="#222" stroke-width="0.60" />
<text transform="translate(277.70 353.20) scale(1.190 1)" font-size="7.00" fill="#222222" stroke="#222222" stroke-width="0.10" text-anchor="middle" >0</text>
<line x1="305.12" y1="340.90" x2="305.12" y2="343.90" stroke="#222" stroke-width="0.80" />
<line x1="305.12" y1="212.50" x2="305.12" y2="214.50" stroke="#222" stroke-width="0.60" />
<text transform="translate(305.12 353.20) scale(1.190 1)" font-size="7.00" fill="#222222" stroke="#222222" stroke-width="0.10" text-anchor="middle" >30</text>
<line x1="332.54" y1="340.90" x2="332.54" y2="343.90" stroke="#222" stroke-width="0.80" />
<line x1="332.54" y1="212.50" x2="332.54" y2="214.50" stroke="#222" stroke-width="0.60" />
<text transform="translate(332.54 353.20) scale(1.190 1)" font-size="7.00" fill="#222222" stroke="#222222" stroke-width="0.10" text-anchor="middle" >60</text>
<line x1="359.96" y1="340.90" x2="359.96" y2="343.90" stroke="#222" stroke-width="0.80" />
<line x1="359.96" y1="212.50" x2="359.96" y2="214.50" stroke="#222" stroke-width="0.60" />
<text transform="translate(359.96 353.20) scale(1.190 1)" font-size="7.00" fill="#222222" stroke="#222222" stroke-width="0.10" text-anchor="middle" >90</text>
<line x1="387.38" y1="340.90" x2="387.38" y2="343.90" stroke="#222" stroke-width="0.80" />
<line x1="387.38" y1="212.50" x2="387.38" y2="214.50" stroke="#222" stroke-width="0.60" />
<text transform="translate(387.38 353.20) scale(1.190 1)" font-size="7.00" fill="#222222" stroke="#222222" stroke-width="0.10" text-anchor="middle" >120</text>
<line x1="414.80" y1="340.90" x2="414.80" y2="343.90" stroke="#222" stroke-width="0.80" />
<line x1="414.80" y1="212.50" x2="414.80" y2="214.50" stroke="#222" stroke-width="0.60" />
<text transform="translate(414.80 353.20) scale(1.190 1)" font-size="7.00" fill="#222222" stroke="#222222" stroke-width="0.10" text-anchor="middle" >150</text>
<line x1="442.22" y1="340.90" x2="442.22" y2="343.90" stroke="#222" stroke-width="0.80" />
<line x1="442.22" y1="212.50" x2="442.22" y2="214.50" stroke="#222" stroke-width="0.60" />
<text transform="translate(442.22 353.20) scale(1.190 1)" font-size="7.00" fill="#222222" stroke="#222222" stroke-width="0.10" text-anchor="middle" >180</text>
<line x1="291.41" y1="340.90" x2="291.41" y2="342.70" stroke="#222" stroke-width="0.70" />
<line x1="291.41" y1="212.50" x2="291.41" y2="213.70" stroke="#222" stroke-width="0.50" />
<line x1="318.83" y1="340.90" x2="318.83" y2="342.70" stroke="#222" stroke-width="0.70" />
<line x1="318.83" y1="212.50" x2="318.83" y2="213.70" stroke="#222" stroke-width="0.50" />
<line x1="346.25" y1="340.90" x2="346.25" y2="342.70" stroke="#222" stroke-width="0.70" />
<line x1="346.25" y1="212.50" x2="346.25" y2="213.70" stroke="#222" stroke-width="0.50" />
<line x1="373.67" y1="340.90" x2="373.67" y2="342.70" stroke="#222" stroke-width="0.70" />
<line x1="373.67" y1="212.50" x2="373.67" y2="213.70" stroke="#222" stroke-width="0.50" />
<line x1="401.09" y1="340.90" x2="401.09" y2="342.70" stroke="#222" stroke-width="0.70" />
<line x1="401.09" y1="212.50" x2="401.09" y2="213.70" stroke="#222" stroke-width="0.50" />
<line x1="428.51" y1="340.90" x2="428.51" y2="342.70" stroke="#222" stroke-width="0.70" />
<line x1="428.51" y1="212.50" x2="428.51" y2="213.70" stroke="#222" stroke-width="0.50" />
<line x1="313.00" y1="317.60" x2="370.00" y2="335.40" stroke="#e08a3c" stroke-width="0.70" stroke-dasharray="1.8 1.6"/>
<line x1="409.55" y1="317.60" x2="415.50" y2="335.40" stroke="#e08a3c" stroke-width="0.70" stroke-dasharray="1.8 1.6"/>
<rect x="370.00" y="335.40" width="45.50" height="4.90" fill="none" stroke="#e08a3c" stroke-width="0.70" stroke-dasharray="1.8 1.6"/>
<rect x="313.00" y="237.30" width="96.55" height="71.05" fill="#fff" stroke="#222" stroke-width="0.80" />
<line x1="311.00" y1="237.30" x2="313.00" y2="237.30" stroke="#222" stroke-width="0.60" />
<text transform="translate(308.80 238.75) scale(1.120 1)" font-size="4.00" fill="#222222" stroke="#222222" stroke-width="0.00" text-anchor="end" font-weight="bold" >500</text>
<line x1="311.00" y1="250.60" x2="313.00" y2="250.60" stroke="#222" stroke-width="0.60" />
<text transform="translate(308.80 252.05) scale(1.120 1)" font-size="4.00" fill="#222222" stroke="#222222" stroke-width="0.00" text-anchor="end" font-weight="bold" >400</text>
<line x1="311.00" y1="265.20" x2="313.00" y2="265.20" stroke="#222" stroke-width="0.60" />
<text transform="translate(308.80 266.65) scale(1.120 1)" font-size="4.00" fill="#222222" stroke="#222222" stroke-width="0.00" text-anchor="end" font-weight="bold" >300</text>
<line x1="311.00" y1="279.00" x2="313.00" y2="279.00" stroke="#222" stroke-width="0.60" />
<text transform="translate(308.80 280.45) scale(1.120 1)" font-size="4.00" fill="#222222" stroke="#222222" stroke-width="0.00" text-anchor="end" font-weight="bold" >200</text>
<line x1="311.00" y1="285.50" x2="313.00" y2="285.50" stroke="#222" stroke-width="0.60" />
<text transform="translate(308.80 286.95) scale(1.120 1)" font-size="4.00" fill="#222222" stroke="#222222" stroke-width="0.00" text-anchor="end" font-weight="bold" >20</text>
<line x1="311.00" y1="296.70" x2="313.00" y2="296.70" stroke="#222" stroke-width="0.60" />
<text transform="translate(308.80 298.15) scale(1.120 1)" font-size="4.00" fill="#222222" stroke="#222222" stroke-width="0.00" text-anchor="end" font-weight="bold" >10</text>
<line x1="311.00" y1="308.35" x2="313.00" y2="308.35" stroke="#222" stroke-width="0.60" />
<text transform="translate(308.80 309.80) scale(1.120 1)" font-size="4.00" fill="#222222" stroke="#222222" stroke-width="0.00" text-anchor="end" font-weight="bold" >0</text>
<line x1="313.00" y1="308.35" x2="313.00" y2="309.95" stroke="#222" stroke-width="0.60" />
<text transform="translate(313.00 315.55) scale(1.120 1)" font-size="4.00" fill="#222222" stroke="#222222" stroke-width="0.00" text-anchor="middle" font-weight="bold" >100</text>
<line x1="332.31" y1="308.35" x2="332.31" y2="309.95" stroke="#222" stroke-width="0.60" />
<text transform="translate(332.31 315.55) scale(1.120 1)" font-size="4.00" fill="#222222" stroke="#222222" stroke-width="0.00" text-anchor="middle" font-weight="bold" >110</text>
<line x1="351.62" y1="308.35" x2="351.62" y2="309.95" stroke="#222" stroke-width="0.60" />
<text transform="translate(351.62 315.55) scale(1.120 1)" font-size="4.00" fill="#222222" stroke="#222222" stroke-width="0.00" text-anchor="middle" font-weight="bold" >120</text>
<line x1="370.93" y1="308.35" x2="370.93" y2="309.95" stroke="#222" stroke-width="0.60" />
<text transform="translate(370.93 315.55) scale(1.120 1)" font-size="4.00" fill="#222222" stroke="#222222" stroke-width="0.00" text-anchor="middle" font-weight="bold" >130</text>
<line x1="390.24" y1="308.35" x2="390.24" y2="309.95" stroke="#222" stroke-width="0.60" />
<text transform="translate(390.24 315.55) scale(1.120 1)" font-size="4.00" fill="#222222" stroke="#222222" stroke-width="0.00" text-anchor="middle" font-weight="bold" >140</text>
<line x1="409.55" y1="308.35" x2="409.55" y2="309.95" stroke="#222" stroke-width="0.60" />
<text transform="translate(409.55 315.55) scale(1.120 1)" font-size="4.00" fill="#222222" stroke="#222222" stroke-width="0.00" text-anchor="middle" font-weight="bold" >150</text>
<line x1="313.00" y1="308.35" x2="313.00" y2="309.35" stroke="#222" stroke-width="0.50" />
<line x1="313.00" y1="237.30" x2="313.00" y2="238.30" stroke="#222" stroke-width="0.40" />
<line x1="322.65" y1="308.35" x2="322.65" y2="309.35" stroke="#222" stroke-width="0.50" />
<line x1="322.65" y1="237.30" x2="322.65" y2="238.30" stroke="#222" stroke-width="0.40" />
<line x1="332.31" y1="308.35" x2="332.31" y2="309.35" stroke="#222" stroke-width="0.50" />
<line x1="332.31" y1="237.30" x2="332.31" y2="238.30" stroke="#222" stroke-width="0.40" />
<line x1="341.97" y1="308.35" x2="341.97" y2="309.35" stroke="#222" stroke-width="0.50" />
<line x1="341.97" y1="237.30" x2="341.97" y2="238.30" stroke="#222" stroke-width="0.40" />
<line x1="351.62" y1="308.35" x2="351.62" y2="309.35" stroke="#222" stroke-width="0.50" />
<line x1="351.62" y1="237.30" x2="351.62" y2="238.30" stroke="#222" stroke-width="0.40" />
<line x1="361.27" y1="308.35" x2="361.27" y2="309.35" stroke="#222" stroke-width="0.50" />
<line x1="361.27" y1="237.30" x2="361.27" y2="238.30" stroke="#222" stroke-width="0.40" />
<line x1="370.93" y1="308.35" x2="370.93" y2="309.35" stroke="#222" stroke-width="0.50" />
<line x1="370.93" y1="237.30" x2="370.93" y2="238.30" stroke="#222" stroke-width="0.40" />
<line x1="380.59" y1="308.35" x2="380.59" y2="309.35" stroke="#222" stroke-width="0.50" />
<line x1="380.59" y1="237.30" x2="380.59" y2="238.30" stroke="#222" stroke-width="0.40" />
<line x1="390.24" y1="308.35" x2="390.24" y2="309.35" stroke="#222" stroke-width="0.50" />
<line x1="390.24" y1="237.30" x2="390.24" y2="238.30" stroke="#222" stroke-width="0.40" />
<line x1="399.89" y1="308.35" x2="399.89" y2="309.35" stroke="#222" stroke-width="0.50" />
<line x1="399.89" y1="237.30" x2="399.89" y2="238.30" stroke="#222" stroke-width="0.40" />
<line x1="409.55" y1="308.35" x2="409.55" y2="309.35" stroke="#222" stroke-width="0.50" />
<line x1="409.55" y1="237.30" x2="409.55" y2="238.30" stroke="#222" stroke-width="0.40" />
<line x1="408.55" y1="243.22" x2="409.55" y2="243.22" stroke="#222" stroke-width="0.40" />
<line x1="408.55" y1="249.14" x2="409.55" y2="249.14" stroke="#222" stroke-width="0.40" />
<line x1="408.55" y1="255.06" x2="409.55" y2="255.06" stroke="#222" stroke-width="0.40" />
<line x1="408.55" y1="260.98" x2="409.55" y2="260.98" stroke="#222" stroke-width="0.40" />
<line x1="408.55" y1="266.90" x2="409.55" y2="266.90" stroke="#222" stroke-width="0.40" />
<line x1="408.55" y1="272.83" x2="409.55" y2="272.83" stroke="#222" stroke-width="0.40" />
<line x1="408.55" y1="278.75" x2="409.55" y2="278.75" stroke="#222" stroke-width="0.40" />
<line x1="408.55" y1="284.67" x2="409.55" y2="284.67" stroke="#222" stroke-width="0.40" />
<line x1="408.55" y1="290.59" x2="409.55" y2="290.59" stroke="#222" stroke-width="0.40" />
<line x1="408.55" y1="296.51" x2="409.55" y2="296.51" stroke="#222" stroke-width="0.40" />
<line x1="408.55" y1="302.43" x2="409.55" y2="302.43" stroke="#222" stroke-width="0.40" />
<line x1="311.20" y1="282.80" x2="314.80" y2="281.60" stroke="#222" stroke-width="0.60" />
<line x1="311.20" y1="281.60" x2="314.80" y2="280.40" stroke="#222" stroke-width="0.60" />
<text transform="translate(297.10 270.33) rotate(-90) scale(1.100 1)" font-size="4.40" fill="#222222" stroke="#222222" stroke-width="0.00" text-anchor="middle" font-weight="bold" >ppm</text>
<line x1="313.00" y1="302.50" x2="409.55" y2="302.50" stroke="#2a2ad0" stroke-width="0.85" stroke-dasharray="2.3 2.0"/>
<text transform="translate(314.10 294.80)" font-size="5.50" fill="#3434d8" stroke="#3434d8" stroke-width="0.10" >5 ppm</text>
<line x1="322.60" y1="297.80" x2="321.00" y2="301.90" stroke="#111" stroke-width="0.60" />
<path d="M320.50 301.60l2.0 -0.6l-0.9 2.0z" fill="#111"/>
<polyline points="314.00,307.80 376.00,307.80" fill="none" stroke="#3db44c" stroke-width="1.10" stroke-linejoin="round" stroke-linecap="round"/>
<polyline points="356.50,308.00 360.50,279.00 361.80,237.70" fill="none" stroke="#e8262a" stroke-width="0.75" stroke-linejoin="round" />
<polyline points="354.20,308.00 359.80,279.00 362.30,237.70" fill="none" stroke="#33415e" stroke-width="0.75" stroke-linejoin="round" />
<polyline points="376.30,308.00 377.50,279.50 380.60,279.00 380.80,277.00 383.90,237.70" fill="none" stroke="#24a334" stroke-width="0.75" stroke-linejoin="round" />
<polyline points="276.70,340.30 443.30,340.30" fill="none" stroke="#24a334" stroke-width="2.40" stroke-linejoin="round" stroke-linecap="round"/>
<polyline points="276.70,340.30 443.30,340.30" fill="none" stroke="#bfe5c4" stroke-width="0.53" stroke-linejoin="round" stroke-dasharray="0.8 1.0"/>
<polyline points="391.95,339.60 443.30,339.60" fill="none" stroke="#24a334" stroke-width="2.40" stroke-linejoin="round" stroke-linecap="round"/>
<polyline points="391.95,339.60 443.30,339.60" fill="none" stroke="#bfe5c4" stroke-width="0.53" stroke-linejoin="round" stroke-dasharray="0.8 1.0"/>
<path d="M391.2 339.6 L394.5 337.6 L397.8 335.8 L400.6 337.6 L403.4 339.6" fill="#d6ecec" stroke="#3f9296" stroke-width="0.9"/>
<line x1="289.60" y1="339.80" x2="289.80" y2="214.70" stroke="#9b62f2" stroke-width="1.60" />
<polyline points="290.00,214.50 390.30,214.50" fill="none" stroke="#8a3cf0" stroke-width="3.80" stroke-linejoin="round" stroke-linecap="round"/>
<polyline points="290.00,214.50 390.30,214.50" fill="none" stroke="#d9c0f8" stroke-width="0.84" stroke-linejoin="round" stroke-dasharray="0.8 1.0"/>
<polyline points="390.30,214.70 395.50,218.30 441.80,218.40" fill="none" stroke="#8a3cf0" stroke-width="3.60" stroke-linejoin="round" stroke-linecap="round"/>
<polyline points="390.30,214.70 395.50,218.30 441.80,218.40" fill="none" stroke="#e4d2fa" stroke-width="0.79" stroke-linejoin="round" stroke-dasharray="0.8 1.0"/>
<path d="M439.80 218.40L441.80 216.40L443.80 218.40L441.80 220.40Z" fill="#fff" stroke="#8a3cf0" stroke-width="0.70"/>
<circle cx="443.00" cy="339.90" r="1.50" fill="#fff" stroke="#24a334" stroke-width="0.70"/>
<text transform="translate(429.70 230.70) scale(1.120 1)" font-size="5.00" fill="#2a2ad0" stroke="#2a2ad0" stroke-width="0.00" text-anchor="middle" font-weight="bold" >0% RH</text>
<line x1="412.40" y1="238.10" x2="427.80" y2="238.10" stroke="#8a3cf0" stroke-width="0.85" />
<path d="M418.20 238.10L420.10 236.20L422.00 238.10L420.10 240.00Z" fill="#fff" stroke="#8a3cf0" stroke-width="0.70"/>
<text transform="translate(432.00 240.10) scale(1.020 1)" font-size="5.50" fill="#222222" stroke="#222222" stroke-width="0.10" >C<tspan dy="1.87" font-size="3.52">2</tspan><tspan dy="-1.87">H</tspan><tspan dy="1.87" font-size="3.52">4</tspan></text>
<line x1="412.40" y1="248.80" x2="427.80" y2="248.80" stroke="#e8262a" stroke-width="0.85" />
<path d="M418.50 247.52L421.70 247.52L420.10 250.24Z" fill="#fff" stroke="#e8262a" stroke-width="0.70"/>
<text transform="translate(432.00 250.80) scale(1.020 1)" font-size="5.50" fill="#222222" stroke="#222222" stroke-width="0.10" >C<tspan dy="1.87" font-size="3.52">2</tspan><tspan dy="-1.87">H</tspan><tspan dy="1.87" font-size="3.52">2</tspan></text>
<line x1="412.40" y1="259.50" x2="427.80" y2="259.50" stroke="#24a334" stroke-width="0.85" />
<circle cx="420.10" cy="259.50" r="1.60" fill="#fff" stroke="#24a334" stroke-width="0.70"/>
<text transform="translate(432.00 261.50) scale(1.020 1)" font-size="5.50" fill="#222222" stroke="#222222" stroke-width="0.10" >C<tspan dy="1.87" font-size="3.52">3</tspan><tspan dy="-1.87">H</tspan><tspan dy="1.87" font-size="3.52">4</tspan></text>
<line x1="412.40" y1="270.10" x2="427.80" y2="270.10" stroke="#3b6e9a" stroke-width="0.85" />
<circle cx="420.10" cy="270.10" r="1.60" fill="#fff" stroke="#3b6e9a" stroke-width="0.70"/>
<text transform="translate(432.00 272.10) scale(1.020 1)" font-size="5.50" fill="#222222" stroke="#222222" stroke-width="0.10" >1-C<tspan dy="1.87" font-size="3.52">4</tspan><tspan dy="-1.87">H</tspan><tspan dy="1.87" font-size="3.52">6</tspan></text>
<text transform="translate(411.90 286.80) scale(1.090 1)" font-size="7.20" fill="#222222" stroke="#222222" stroke-width="0.10" >8 ml min<tspan dy="-2.8" font-size="5">−1</tspan></text>
<text transform="translate(469.80 208.40) scale(1.080 1)" font-size="11.30" fill="#111" stroke="#111" stroke-width="0.30" font-weight="bold" >f</text>
<text transform="translate(594.00 206.60) scale(1.185 1)" font-size="7.20" fill="#222222" stroke="#222222" stroke-width="0.10" text-anchor="middle" >C<tspan dy="2.45" font-size="4.61">2</tspan><tspan dy="-2.45">H</tspan><tspan dy="2.45" font-size="4.61">2</tspan><tspan dy="-2.45">/C</tspan><tspan dy="2.45" font-size="4.61">3</tspan><tspan dy="-2.45">H</tspan><tspan dy="2.45" font-size="4.61">4</tspan><tspan dy="-2.45">/1-C</tspan><tspan dy="2.45" font-size="4.61">4</tspan><tspan dy="-2.45">H</tspan><tspan dy="2.45" font-size="4.61">6</tspan><tspan dy="-2.45">/C</tspan><tspan dy="2.45" font-size="4.61">2</tspan><tspan dy="-2.45">H</tspan><tspan dy="2.45" font-size="4.61">4</tspan><tspan dy="-2.45"> (</tspan>1:1:1:1)</text>
<text transform="translate(476.40 277.50) rotate(-90) scale(1.220 1)" font-size="7.40" fill="#222222" stroke="#222222" stroke-width="0.10" text-anchor="middle" >Outlet concentration (mol %)</text>
<text transform="translate(593.20 367.30) scale(1.195 1)" font-size="7.40" fill="#222222" stroke="#222222" stroke-width="0.10" text-anchor="middle" >Breakthrough (min g<tspan dy="-2.6" font-size="5">−1</tspan><tspan dy="2.6">)</tspan></text>
<line x1="503.60" y1="341.40" x2="506.50" y2="341.40" stroke="#222" stroke-width="0.90" />
<text transform="translate(499.80 343.95) scale(1.190 1)" font-size="7.00" fill="#222222" stroke="#222222" stroke-width="0.10" text-anchor="end" >0</text>
<line x1="677.30" y1="341.40" x2="679.50" y2="341.40" stroke="#222" stroke-width="0.60" />
<line x1="504.70" y1="328.97" x2="506.50" y2="328.97" stroke="#222" stroke-width="0.70" />
<line x1="678.20" y1="328.97" x2="679.50" y2="328.97" stroke="#222" stroke-width="0.50" />
<line x1="503.60" y1="316.54" x2="506.50" y2="316.54" stroke="#222" stroke-width="0.90" />
<text transform="translate(499.80 319.09) scale(1.190 1)" font-size="7.00" fill="#222222" stroke="#222222" stroke-width="0.10" text-anchor="end" >20</text>
<line x1="677.30" y1="316.54" x2="679.50" y2="316.54" stroke="#222" stroke-width="0.60" />
<line x1="504.70" y1="304.11" x2="506.50" y2="304.11" stroke="#222" stroke-width="0.70" />
<line x1="678.20" y1="304.11" x2="679.50" y2="304.11" stroke="#222" stroke-width="0.50" />
<line x1="503.60" y1="291.68" x2="506.50" y2="291.68" stroke="#222" stroke-width="0.90" />
<text transform="translate(499.80 294.23) scale(1.190 1)" font-size="7.00" fill="#222222" stroke="#222222" stroke-width="0.10" text-anchor="end" >40</text>
<line x1="677.30" y1="291.68" x2="679.50" y2="291.68" stroke="#222" stroke-width="0.60" />
<line x1="504.70" y1="279.25" x2="506.50" y2="279.25" stroke="#222" stroke-width="0.70" />
<line x1="678.20" y1="279.25" x2="679.50" y2="279.25" stroke="#222" stroke-width="0.50" />
<line x1="503.60" y1="266.82" x2="506.50" y2="266.82" stroke="#222" stroke-width="0.90" />
<text transform="translate(499.80 269.37) scale(1.190 1)" font-size="7.00" fill="#222222" stroke="#222222" stroke-width="0.10" text-anchor="end" >60</text>
<line x1="677.30" y1="266.82" x2="679.50" y2="266.82" stroke="#222" stroke-width="0.60" />
<line x1="504.70" y1="254.39" x2="506.50" y2="254.39" stroke="#222" stroke-width="0.70" />
<line x1="678.20" y1="254.39" x2="679.50" y2="254.39" stroke="#222" stroke-width="0.50" />
<line x1="503.60" y1="241.96" x2="506.50" y2="241.96" stroke="#222" stroke-width="0.90" />
<text transform="translate(499.80 244.51) scale(1.190 1)" font-size="7.00" fill="#222222" stroke="#222222" stroke-width="0.10" text-anchor="end" >80</text>
<line x1="677.30" y1="241.96" x2="679.50" y2="241.96" stroke="#222" stroke-width="0.60" />
<line x1="504.70" y1="229.53" x2="506.50" y2="229.53" stroke="#222" stroke-width="0.70" />
<line x1="678.20" y1="229.53" x2="679.50" y2="229.53" stroke="#222" stroke-width="0.50" />
<line x1="503.60" y1="217.10" x2="506.50" y2="217.10" stroke="#222" stroke-width="0.90" />
<text transform="translate(499.80 219.65) scale(1.190 1)" font-size="7.00" fill="#222222" stroke="#222222" stroke-width="0.10" text-anchor="end" >100</text>
<line x1="677.30" y1="217.10" x2="679.50" y2="217.10" stroke="#222" stroke-width="0.60" />
<line x1="507.00" y1="341.60" x2="507.00" y2="344.60" stroke="#222" stroke-width="0.80" />
<line x1="507.00" y1="214.40" x2="507.00" y2="216.40" stroke="#222" stroke-width="0.60" />
<text transform="translate(507.00 353.20) scale(1.190 1)" font-size="7.00" fill="#222222" stroke="#222222" stroke-width="0.10" text-anchor="middle" >0</text>
<line x1="514.80" y1="341.60" x2="514.80" y2="344.60" stroke="#222" stroke-width="0.80" />
<line x1="514.80" y1="214.40" x2="514.80" y2="216.40" stroke="#222" stroke-width="0.60" />
<text transform="translate(514.80 353.20) scale(1.190 1)" font-size="7.00" fill="#222222" stroke="#222222" stroke-width="0.10" text-anchor="middle" >5</text>
<line x1="539.40" y1="341.60" x2="539.40" y2="344.60" stroke="#222" stroke-width="0.80" />
<line x1="539.40" y1="214.40" x2="539.40" y2="216.40" stroke="#222" stroke-width="0.60" />
<text transform="translate(539.40 353.20) scale(1.190 1)" font-size="7.00" fill="#222222" stroke="#222222" stroke-width="0.10" text-anchor="middle" >30</text>
<line x1="567.40" y1="341.60" x2="567.40" y2="344.60" stroke="#222" stroke-width="0.80" />
<line x1="567.40" y1="214.40" x2="567.40" y2="216.40" stroke="#222" stroke-width="0.60" />
<text transform="translate(567.40 353.20) scale(1.190 1)" font-size="7.00" fill="#222222" stroke="#222222" stroke-width="0.10" text-anchor="middle" >40</text>
<line x1="595.40" y1="341.60" x2="595.40" y2="344.60" stroke="#222" stroke-width="0.80" />
<line x1="595.40" y1="214.40" x2="595.40" y2="216.40" stroke="#222" stroke-width="0.60" />
<text transform="translate(595.40 353.20) scale(1.190 1)" font-size="7.00" fill="#222222" stroke="#222222" stroke-width="0.10" text-anchor="middle" >50</text>
<line x1="623.40" y1="341.60" x2="623.40" y2="344.60" stroke="#222" stroke-width="0.80" />
<line x1="623.40" y1="214.40" x2="623.40" y2="216.40" stroke="#222" stroke-width="0.60" />
<text transform="translate(623.40 353.20) scale(1.190 1)" font-size="7.00" fill="#222222" stroke="#222222" stroke-width="0.10" text-anchor="middle" >60</text>
<line x1="651.40" y1="341.60" x2="651.40" y2="344.60" stroke="#222" stroke-width="0.80" />
<line x1="651.40" y1="214.40" x2="651.40" y2="216.40" stroke="#222" stroke-width="0.60" />
<text transform="translate(651.40 353.20) scale(1.190 1)" font-size="7.00" fill="#222222" stroke="#222222" stroke-width="0.10" text-anchor="middle" >70</text>
<line x1="679.40" y1="341.60" x2="679.40" y2="344.60" stroke="#222" stroke-width="0.80" />
<line x1="679.40" y1="214.40" x2="679.40" y2="216.40" stroke="#222" stroke-width="0.60" />
<text transform="translate(679.40 353.20) scale(1.190 1)" font-size="7.00" fill="#222222" stroke="#222222" stroke-width="0.10" text-anchor="middle" >80</text>
<line x1="553.40" y1="341.60" x2="553.40" y2="343.40" stroke="#222" stroke-width="0.70" />
<line x1="553.40" y1="214.40" x2="553.40" y2="215.60" stroke="#222" stroke-width="0.50" />
<line x1="581.40" y1="341.60" x2="581.40" y2="343.40" stroke="#222" stroke-width="0.70" />
<line x1="581.40" y1="214.40" x2="581.40" y2="215.60" stroke="#222" stroke-width="0.50" />
<line x1="609.40" y1="341.60" x2="609.40" y2="343.40" stroke="#222" stroke-width="0.70" />
<line x1="609.40" y1="214.40" x2="609.40" y2="215.60" stroke="#222" stroke-width="0.50" />
<line x1="637.40" y1="341.60" x2="637.40" y2="343.40" stroke="#222" stroke-width="0.70" />
<line x1="637.40" y1="214.40" x2="637.40" y2="215.60" stroke="#222" stroke-width="0.50" />
<line x1="665.40" y1="341.60" x2="665.40" y2="343.40" stroke="#222" stroke-width="0.70" />
<line x1="665.40" y1="214.40" x2="665.40" y2="215.60" stroke="#222" stroke-width="0.50" />
<polyline points="506.00,340.70 521.00,340.70" fill="none" stroke="#24a334" stroke-width="2.00" stroke-linejoin="round" stroke-linecap="round"/>
<polyline points="527.40,340.60 543.00,340.60" fill="none" stroke="#24a334" stroke-width="1.80" stroke-linejoin="round" stroke-linecap="round"/>
<circle cx="544.60" cy="340.40" r="1.15" fill="#fff" stroke="#24a334" stroke-width="0.70"/>
<circle cx="546.85" cy="341.00" r="1.15" fill="#fff" stroke="#24a334" stroke-width="0.70"/>
<circle cx="549.10" cy="340.40" r="1.15" fill="#fff" stroke="#24a334" stroke-width="0.70"/>
<circle cx="551.35" cy="341.00" r="1.15" fill="#fff" stroke="#24a334" stroke-width="0.70"/>
<circle cx="553.60" cy="340.40" r="1.15" fill="#fff" stroke="#24a334" stroke-width="0.70"/>
<circle cx="555.85" cy="341.00" r="1.15" fill="#fff" stroke="#24a334" stroke-width="0.70"/>
<circle cx="558.10" cy="340.40" r="1.15" fill="#fff" stroke="#24a334" stroke-width="0.70"/>
<circle cx="560.35" cy="341.00" r="1.15" fill="#fff" stroke="#24a334" stroke-width="0.70"/>
<circle cx="562.60" cy="340.40" r="1.15" fill="#fff" stroke="#24a334" stroke-width="0.70"/>
<circle cx="564.85" cy="341.00" r="1.15" fill="#fff" stroke="#24a334" stroke-width="0.70"/>
<circle cx="567.10" cy="340.40" r="1.15" fill="#fff" stroke="#24a334" stroke-width="0.70"/>
<circle cx="569.35" cy="341.00" r="1.15" fill="#fff" stroke="#24a334" stroke-width="0.70"/>
<circle cx="571.60" cy="340.40" r="1.15" fill="#fff" stroke="#24a334" stroke-width="0.70"/>
<circle cx="573.85" cy="341.00" r="1.15" fill="#fff" stroke="#24a334" stroke-width="0.70"/>
<rect x="521.70" y="339.20" width="5.00" height="3.40" fill="#fff" stroke="none" stroke-width="0.80" />
<line x1="521.60" y1="343.30" x2="523.80" y2="338.90" stroke="#111" stroke-width="0.85" />
<line x1="524.70" y1="343.30" x2="526.90" y2="338.90" stroke="#111" stroke-width="0.85" />
<line x1="543.20" y1="340.60" x2="543.20" y2="217.10" stroke="#8a3cf0" stroke-width="1.20" />
<polyline points="543.60,217.10 548.14,217.10 552.67,217.10 557.21,217.10 561.74,217.10 566.28,217.10 570.82,217.10 575.35,217.10 580.28,273.66 585.32,300.38 589.80,306.35 594.28,307.84 598.76,308.46 603.24,308.83 607.72,309.08 612.20,309.08 616.68,309.16 621.16,309.23 625.64,309.31 630.12,309.38 634.60,309.45 639.08,309.53 643.56,309.60 648.04,309.68 652.52,309.75 657.00,309.83 661.48,309.90 665.96,309.98 670.44,310.05 674.92,310.13 679.40,310.20" fill="none" stroke="#8a3cf0" stroke-width="0.90" stroke-linejoin="round" />
<path d="M541.70 217.10L543.60 215.20L545.50 217.10L543.60 219.00Z" fill="#fff" stroke="#8a3cf0" stroke-width="0.70"/>
<path d="M546.24 217.10L548.14 215.20L550.04 217.10L548.14 219.00Z" fill="#fff" stroke="#8a3cf0" stroke-width="0.70"/>
<path d="M550.77 217.10L552.67 215.20L554.57 217.10L552.67 219.00Z" fill="#fff" stroke="#8a3cf0" stroke-width="0.70"/>
<path d="M555.31 217.10L557.21 215.20L559.11 217.10L557.21 219.00Z" fill="#fff" stroke="#8a3cf0" stroke-width="0.70"/>
<path d="M559.84 217.10L561.74 215.20L563.64 217.10L561.74 219.00Z" fill="#fff" stroke="#8a3cf0" stroke-width="0.70"/>
<path d="M564.38 217.10L566.28 215.20L568.18 217.10L566.28 219.00Z" fill="#fff" stroke="#8a3cf0" stroke-width="0.70"/>
<path d="M568.92 217.10L570.82 215.20L572.72 217.10L570.82 219.00Z" fill="#fff" stroke="#8a3cf0" stroke-width="0.70"/>
<path d="M573.45 217.10L575.35 215.20L577.25 217.10L575.35 219.00Z" fill="#fff" stroke="#8a3cf0" stroke-width="0.70"/>
<path d="M578.38 273.66L580.28 271.76L582.18 273.66L580.28 275.56Z" fill="#fff" stroke="#8a3cf0" stroke-width="0.70"/>
<path d="M583.42 300.38L585.32 298.48L587.22 300.38L585.32 302.28Z" fill="#fff" stroke="#8a3cf0" stroke-width="0.70"/>
<path d="M587.90 306.35L589.80 304.45L591.70 306.35L589.80 308.25Z" fill="#fff" stroke="#8a3cf0" stroke-width="0.70"/>
<path d="M592.38 307.84L594.28 305.94L596.18 307.84L594.28 309.74Z" fill="#fff" stroke="#8a3cf0" stroke-width="0.70"/>
<path d="M596.86 308.46L598.76 306.56L600.66 308.46L598.76 310.36Z" fill="#fff" stroke="#8a3cf0" stroke-width="0.70"/>
<path d="M601.34 308.83L603.24 306.93L605.14 308.83L603.24 310.73Z" fill="#fff" stroke="#8a3cf0" stroke-width="0.70"/>
<path d="M605.82 309.08L607.72 307.18L609.62 309.08L607.72 310.98Z" fill="#fff" stroke="#8a3cf0" stroke-width="0.70"/>
<path d="M610.30 309.08L612.20 307.18L614.10 309.08L612.20 310.98Z" fill="#fff" stroke="#8a3cf0" stroke-width="0.70"/>
<path d="M614.78 309.16L616.68 307.26L618.58 309.16L616.68 311.06Z" fill="#fff" stroke="#8a3cf0" stroke-width="0.70"/>
<path d="M619.26 309.23L621.16 307.33L623.06 309.23L621.16 311.13Z" fill="#fff" stroke="#8a3cf0" stroke-width="0.70"/>
<path d="M623.74 309.31L625.64 307.41L627.54 309.31L625.64 311.21Z" fill="#fff" stroke="#8a3cf0" stroke-width="0.70"/>
<path d="M628.22 309.38L630.12 307.48L632.02 309.38L630.12 311.28Z" fill="#fff" stroke="#8a3cf0" stroke-width="0.70"/>
<path d="M632.70 309.45L634.60 307.55L636.50 309.45L634.60 311.35Z" fill="#fff" stroke="#8a3cf0" stroke-width="0.70"/>
<path d="M637.18 309.53L639.08 307.63L640.98 309.53L639.08 311.43Z" fill="#fff" stroke="#8a3cf0" stroke-width="0.70"/>
<path d="M641.66 309.60L643.56 307.70L645.46 309.60L643.56 311.50Z" fill="#fff" stroke="#8a3cf0" stroke-width="0.70"/>
<path d="M646.14 309.68L648.04 307.78L649.94 309.68L648.04 311.58Z" fill="#fff" stroke="#8a3cf0" stroke-width="0.70"/>
<path d="M650.62 309.75L652.52 307.85L654.42 309.75L652.52 311.65Z" fill="#fff" stroke="#8a3cf0" stroke-width="0.70"/>
<path d="M655.10 309.83L657.00 307.93L658.90 309.83L657.00 311.73Z" fill="#fff" stroke="#8a3cf0" stroke-width="0.70"/>
<path d="M659.58 309.90L661.48 308.00L663.38 309.90L661.48 311.80Z" fill="#fff" stroke="#8a3cf0" stroke-width="0.70"/>
<path d="M664.06 309.98L665.96 308.08L667.86 309.98L665.96 311.88Z" fill="#fff" stroke="#8a3cf0" stroke-width="0.70"/>
<path d="M668.54 310.05L670.44 308.15L672.34 310.05L670.44 311.95Z" fill="#fff" stroke="#8a3cf0" stroke-width="0.70"/>
<path d="M673.02 310.13L674.92 308.23L676.82 310.13L674.92 312.03Z" fill="#fff" stroke="#8a3cf0" stroke-width="0.70"/>
<path d="M677.50 310.20L679.40 308.30L681.30 310.20L679.40 312.10Z" fill="#fff" stroke="#8a3cf0" stroke-width="0.70"/>
<polyline points="576.36,341.03 584.20,324.00 588.68,291.68 593.16,286.34 597.92,293.54 602.68,299.64 607.44,302.62 612.20,304.61 616.96,306.35 621.72,307.59 626.48,308.34 631.24,308.71 636.00,308.83 640.76,308.96 645.52,309.08 650.28,309.21 655.04,309.33 659.80,309.45 664.56,309.58 669.32,309.70 674.08,309.83 678.84,309.95" fill="none" stroke="#3b6e9a" stroke-width="0.90" stroke-linejoin="round" />
<circle cx="576.36" cy="341.03" r="1.60" fill="#fff" stroke="#3b6e9a" stroke-width="0.70"/>
<circle cx="584.20" cy="324.00" r="1.60" fill="#fff" stroke="#3b6e9a" stroke-width="0.70"/>
<circle cx="588.68" cy="291.68" r="1.60" fill="#fff" stroke="#3b6e9a" stroke-width="0.70"/>
<circle cx="593.16" cy="286.34" r="1.60" fill="#fff" stroke="#3b6e9a" stroke-width="0.70"/>
<circle cx="597.92" cy="293.54" r="1.60" fill="#fff" stroke="#3b6e9a" stroke-width="0.70"/>
<circle cx="602.68" cy="299.64" r="1.60" fill="#fff" stroke="#3b6e9a" stroke-width="0.70"/>
<circle cx="607.44" cy="302.62" r="1.60" fill="#fff" stroke="#3b6e9a" stroke-width="0.70"/>
<circle cx="612.20" cy="304.61" r="1.60" fill="#fff" stroke="#3b6e9a" stroke-width="0.70"/>
<circle cx="616.96" cy="306.35" r="1.60" fill="#fff" stroke="#3b6e9a" stroke-width="0.70"/>
<circle cx="621.72" cy="307.59" r="1.60" fill="#fff" stroke="#3b6e9a" stroke-width="0.70"/>
<circle cx="626.48" cy="308.34" r="1.60" fill="#fff" stroke="#3b6e9a" stroke-width="0.70"/>
<circle cx="631.24" cy="308.71" r="1.60" fill="#fff" stroke="#3b6e9a" stroke-width="0.70"/>
<circle cx="636.00" cy="308.83" r="1.60" fill="#fff" stroke="#3b6e9a" stroke-width="0.70"/>
<circle cx="640.76" cy="308.96" r="1.60" fill="#fff" stroke="#3b6e9a" stroke-width="0.70"/>
<circle cx="645.52" cy="309.08" r="1.60" fill="#fff" stroke="#3b6e9a" stroke-width="0.70"/>
<circle cx="650.28" cy="309.21" r="1.60" fill="#fff" stroke="#3b6e9a" stroke-width="0.70"/>
<circle cx="655.04" cy="309.33" r="1.60" fill="#fff" stroke="#3b6e9a" stroke-width="0.70"/>
<circle cx="659.80" cy="309.45" r="1.60" fill="#fff" stroke="#3b6e9a" stroke-width="0.70"/>
<circle cx="664.56" cy="309.58" r="1.60" fill="#fff" stroke="#3b6e9a" stroke-width="0.70"/>
<circle cx="669.32" cy="309.70" r="1.60" fill="#fff" stroke="#3b6e9a" stroke-width="0.70"/>
<circle cx="674.08" cy="309.83" r="1.60" fill="#fff" stroke="#3b6e9a" stroke-width="0.70"/>
<circle cx="678.84" cy="309.95" r="1.60" fill="#fff" stroke="#3b6e9a" stroke-width="0.70"/>
<polyline points="576.36,341.03 580.84,303.49 585.32,313.43 589.80,323.50 593.72,321.26 597.64,318.78 601.56,316.29 605.48,314.05 609.40,312.07 613.32,310.08 617.24,308.34 621.16,306.84 625.08,306.22 629.00,306.10 632.92,306.22 636.84,306.60 640.76,307.09 644.68,307.59 648.60,308.09 652.52,308.58 656.44,308.96 660.36,309.33 664.28,309.58 668.20,309.83 672.12,309.95 676.04,310.08" fill="none" stroke="#e8262a" stroke-width="0.90" stroke-linejoin="round" />
<path d="M574.86 339.83L577.86 339.83L576.36 342.38Z" fill="#fff" stroke="#e8262a" stroke-width="0.70"/>
<path d="M579.34 302.29L582.34 302.29L580.84 304.84Z" fill="#fff" stroke="#e8262a" stroke-width="0.70"/>
<path d="M583.82 312.23L586.82 312.23L585.32 314.78Z" fill="#fff" stroke="#e8262a" stroke-width="0.70"/>
<path d="M588.30 322.30L591.30 322.30L589.80 324.85Z" fill="#fff" stroke="#e8262a" stroke-width="0.70"/>
<path d="M592.22 320.06L595.22 320.06L593.72 322.61Z" fill="#fff" stroke="#e8262a" stroke-width="0.70"/>
<path d="M596.14 317.58L599.14 317.58L597.64 320.13Z" fill="#fff" stroke="#e8262a" stroke-width="0.70"/>
<path d="M600.06 315.09L603.06 315.09L601.56 317.64Z" fill="#fff" stroke="#e8262a" stroke-width="0.70"/>
<path d="M603.98 312.85L606.98 312.85L605.48 315.40Z" fill="#fff" stroke="#e8262a" stroke-width="0.70"/>
<path d="M607.90 310.87L610.90 310.87L609.40 313.42Z" fill="#fff" stroke="#e8262a" stroke-width="0.70"/>
<path d="M611.82 308.88L614.82 308.88L613.32 311.43Z" fill="#fff" stroke="#e8262a" stroke-width="0.70"/>
<path d="M615.74 307.14L618.74 307.14L617.24 309.69Z" fill="#fff" stroke="#e8262a" stroke-width="0.70"/>
<path d="M619.66 305.64L622.66 305.64L621.16 308.19Z" fill="#fff" stroke="#e8262a" stroke-width="0.70"/>
<path d="M623.58 305.02L626.58 305.02L625.08 307.57Z" fill="#fff" stroke="#e8262a" stroke-width="0.70"/>
<path d="M627.50 304.90L630.50 304.90L629.00 307.45Z" fill="#fff" stroke="#e8262a" stroke-width="0.70"/>
<path d="M631.42 305.02L634.42 305.02L632.92 307.57Z" fill="#fff" stroke="#e8262a" stroke-width="0.70"/>
<path d="M635.34 305.40L638.34 305.40L636.84 307.95Z" fill="#fff" stroke="#e8262a" stroke-width="0.70"/>
<path d="M639.26 305.89L642.26 305.89L640.76 308.44Z" fill="#fff" stroke="#e8262a" stroke-width="0.70"/>
<path d="M643.18 306.39L646.18 306.39L644.68 308.94Z" fill="#fff" stroke="#e8262a" stroke-width="0.70"/>
<path d="M647.10 306.89L650.10 306.89L648.60 309.44Z" fill="#fff" stroke="#e8262a" stroke-width="0.70"/>
<path d="M651.02 307.38L654.02 307.38L652.52 309.93Z" fill="#fff" stroke="#e8262a" stroke-width="0.70"/>
<path d="M654.94 307.76L657.94 307.76L656.44 310.31Z" fill="#fff" stroke="#e8262a" stroke-width="0.70"/>
<path d="M658.86 308.13L661.86 308.13L660.36 310.68Z" fill="#fff" stroke="#e8262a" stroke-width="0.70"/>
<path d="M662.78 308.38L665.78 308.38L664.28 310.93Z" fill="#fff" stroke="#e8262a" stroke-width="0.70"/>
<path d="M666.70 308.63L669.70 308.63L668.20 311.18Z" fill="#fff" stroke="#e8262a" stroke-width="0.70"/>
<path d="M670.62 308.75L673.62 308.75L672.12 311.30Z" fill="#fff" stroke="#e8262a" stroke-width="0.70"/>
<path d="M674.54 308.88L677.54 308.88L676.04 311.43Z" fill="#fff" stroke="#e8262a" stroke-width="0.70"/>
<polyline points="576.92,341.15 581.40,340.90 586.30,338.79 591.20,326.61 595.96,319.40 600.86,315.67 605.76,313.18 609.68,313.68 613.88,316.54 618.64,318.03 623.68,316.91 628.44,315.05 632.64,313.68 637.40,312.56 642.16,311.69 646.36,311.20 650.56,310.95 654.76,310.70 658.96,310.57 663.16,310.45 667.36,310.32 671.56,310.32 675.48,310.32 678.84,310.32" fill="none" stroke="#24a334" stroke-width="0.90" stroke-linejoin="round" />
<circle cx="576.92" cy="341.15" r="1.60" fill="#fff" stroke="#24a334" stroke-width="0.70"/>
<circle cx="581.40" cy="340.90" r="1.60" fill="#fff" stroke="#24a334" stroke-width="0.70"/>
<circle cx="586.30" cy="338.79" r="1.60" fill="#fff" stroke="#24a334" stroke-width="0.70"/>
<circle cx="591.20" cy="326.61" r="1.60" fill="#fff" stroke="#24a334" stroke-width="0.70"/>
<circle cx="595.96" cy="319.40" r="1.60" fill="#fff" stroke="#24a334" stroke-width="0.70"/>
<circle cx="600.86" cy="315.67" r="1.60" fill="#fff" stroke="#24a334" stroke-width="0.70"/>
<circle cx="605.76" cy="313.18" r="1.60" fill="#fff" stroke="#24a334" stroke-width="0.70"/>
<circle cx="609.68" cy="313.68" r="1.60" fill="#fff" stroke="#24a334" stroke-width="0.70"/>
<circle cx="613.88" cy="316.54" r="1.60" fill="#fff" stroke="#24a334" stroke-width="0.70"/>
<circle cx="618.64" cy="318.03" r="1.60" fill="#fff" stroke="#24a334" stroke-width="0.70"/>
<circle cx="623.68" cy="316.91" r="1.60" fill="#fff" stroke="#24a334" stroke-width="0.70"/>
<circle cx="628.44" cy="315.05" r="1.60" fill="#fff" stroke="#24a334" stroke-width="0.70"/>
<circle cx="632.64" cy="313.68" r="1.60" fill="#fff" stroke="#24a334" stroke-width="0.70"/>
<circle cx="637.40" cy="312.56" r="1.60" fill="#fff" stroke="#24a334" stroke-width="0.70"/>
<circle cx="642.16" cy="311.69" r="1.60" fill="#fff" stroke="#24a334" stroke-width="0.70"/>
<circle cx="646.36" cy="311.20" r="1.60" fill="#fff" stroke="#24a334" stroke-width="0.70"/>
<circle cx="650.56" cy="310.95" r="1.60" fill="#fff" stroke="#24a334" stroke-width="0.70"/>
<circle cx="654.76" cy="310.70" r="1.60" fill="#fff" stroke="#24a334" stroke-width="0.70"/>
<circle cx="658.96" cy="310.57" r="1.60" fill="#fff" stroke="#24a334" stroke-width="0.70"/>
<circle cx="663.16" cy="310.45" r="1.60" fill="#fff" stroke="#24a334" stroke-width="0.70"/>
<circle cx="667.36" cy="310.32" r="1.60" fill="#fff" stroke="#24a334" stroke-width="0.70"/>
<circle cx="671.56" cy="310.32" r="1.60" fill="#fff" stroke="#24a334" stroke-width="0.70"/>
<circle cx="675.48" cy="310.32" r="1.60" fill="#fff" stroke="#24a334" stroke-width="0.70"/>
<circle cx="678.84" cy="310.32" r="1.60" fill="#fff" stroke="#24a334" stroke-width="0.70"/>
<text transform="translate(656.30 233.10) scale(1.120 1)" font-size="5.00" fill="#2a2ad0" stroke="#2a2ad0" stroke-width="0.00" text-anchor="middle" font-weight="bold" >0% RH</text>
<line x1="640.00" y1="240.10" x2="655.60" y2="240.10" stroke="#8a3cf0" stroke-width="0.85" />
<path d="M645.90 240.10L647.80 238.20L649.70 240.10L647.80 242.00Z" fill="#fff" stroke="#8a3cf0" stroke-width="0.70"/>
<text transform="translate(658.60 242.10) scale(1.020 1)" font-size="5.50" fill="#222222" stroke="#222222" stroke-width="0.10" >C<tspan dy="1.87" font-size="3.52">2</tspan><tspan dy="-1.87">H</tspan><tspan dy="1.87" font-size="3.52">4</tspan></text>
<line x1="640.00" y1="250.20" x2="655.60" y2="250.20" stroke="#e8262a" stroke-width="0.85" />
<path d="M646.20 248.92L649.40 248.92L647.80 251.64Z" fill="#fff" stroke="#e8262a" stroke-width="0.70"/>
<text transform="translate(658.60 252.20) scale(1.020 1)" font-size="5.50" fill="#222222" stroke="#222222" stroke-width="0.10" >C<tspan dy="1.87" font-size="3.52">2</tspan><tspan dy="-1.87">H</tspan><tspan dy="1.87" font-size="3.52">2</tspan></text>
<line x1="640.00" y1="260.70" x2="655.60" y2="260.70" stroke="#24a334" stroke-width="0.85" />
<circle cx="647.80" cy="260.70" r="1.60" fill="#fff" stroke="#24a334" stroke-width="0.70"/>
<text transform="translate(658.60 262.70) scale(1.020 1)" font-size="5.50" fill="#222222" stroke="#222222" stroke-width="0.10" >C<tspan dy="1.87" font-size="3.52">3</tspan><tspan dy="-1.87">H</tspan><tspan dy="1.87" font-size="3.52">4</tspan></text>
<line x1="640.00" y1="271.00" x2="655.60" y2="271.00" stroke="#3b6e9a" stroke-width="0.85" />
<circle cx="647.80" cy="271.00" r="1.60" fill="#fff" stroke="#3b6e9a" stroke-width="0.70"/>
<text transform="translate(658.60 273.00) scale(1.020 1)" font-size="5.50" fill="#222222" stroke="#222222" stroke-width="0.10" >1-C<tspan dy="1.87" font-size="3.52">4</tspan><tspan dy="-1.87">H</tspan><tspan dy="1.87" font-size="3.52">6</tspan></text>
<text transform="translate(638.80 287.60) scale(1.090 1)" font-size="7.20" fill="#222222" stroke="#222222" stroke-width="0.10" >4 ml min<tspan dy="-2.8" font-size="5">−1</tspan></text>
<rect x="48.50" y="28.70" width="173.40" height="127.00" fill="none" stroke="#222" stroke-width="0.75" />
<rect x="506.40" y="28.40" width="173.80" height="127.30" fill="none" stroke="#222" stroke-width="0.75" />
<rect x="47.90" y="213.20" width="174.00" height="127.70" fill="none" stroke="#222" stroke-width="0.75" />
<rect x="277.70" y="212.50" width="174.80" height="128.40" fill="none" stroke="#222" stroke-width="0.75" />
<rect x="506.50" y="214.40" width="173.00" height="127.20" fill="none" stroke="#222" stroke-width="0.75" />
</svg>
<div class="cl" id="l0" style="left:9.6px;top:375.80px;transform:scaleX(0.9968)"><b>Fig. 4 | Small-scale column breakthrough and recyclability. a</b>, Breakthrough</div>
<div class="cl" id="l1" style="left:9.6px;top:388.84px;transform:scaleX(0.9345)">curves for a C<sub>2</sub>H<sub>2</sub>/C<sub>3</sub>H<sub>4</sub>/1-C<sub>4</sub>H<sub>6</sub>/C<sub>2</sub>H<sub>4</sub> mixture (1:1:1:97) on 1.4 g of JNU-3a at 298 K</div>
<div class="cl" id="l2" style="left:9.6px;top:401.88px;transform:scaleX(0.9690)">(flow rate: 4.0 ml min<sup>−1</sup>). The inset shows an enlargement of the C<sub>2</sub>H<sub>2</sub>, C<sub>3</sub>H<sub>4</sub> and</div>
<div class="cl" id="l3" style="left:9.6px;top:414.92px;transform:scaleX(1.0169)">1-C<sub>4</sub>H<sub>6</sub> concentrations at breakthrough. <b>b</b>, Comparison of breakthrough times</div>
<div class="cl" id="l4" style="left:9.6px;top:427.96px;transform:scaleX(0.9716)">over 12 cycles of breakthrough experiments on 1.4 g of JNU-3a for a C<sub>2</sub>H<sub>2</sub>/C<sub>3</sub>H<sub>4</sub>/1-</div>
<div class="cl" id="l5" style="left:9.6px;top:441.00px;transform:scaleX(0.9584)">C<sub>4</sub>H<sub>6</sub>/C<sub>2</sub>H<sub>4</sub> mixture (1:1:1:97) at 298 K (flow rate: 4.0 ml min<sup>−1</sup>). In situ regeneration</div>
<div class="cl" id="l6" style="left:9.6px;top:454.04px;transform:scaleX(0.9850)">was carried out under vacuum at 298 K for 24 h. <b>c</b>, Breakthrough curves for a</div>
<div class="cl" id="l7" style="left:9.6px;top:467.08px;transform:scaleX(0.9419)">C<sub>2</sub>H<sub>2</sub>/C<sub>3</sub>H<sub>4</sub>/1-C<sub>4</sub>H<sub>6</sub>/C<sub>2</sub>H<sub>4</sub> mixture (1:1:1:97) on 1.4 g of JNU-3a at 298 K under humid</div>
<div class="cl" id="l8" style="left:9.6px;top:480.12px;transform:scaleX(0.9786)">conditions (50% RH) (flow rate: 4.0 ml min<sup>−1</sup>). The inset shows an enlargement</div>
<div class="cl" id="r0" style="left:354.6px;top:375.80px;transform:scaleX(0.9959)">of the C<sub>2</sub>H<sub>2</sub>, C<sub>3</sub>H<sub>4</sub> and 1-C<sub>4</sub>H<sub>6</sub> concentrations at breakthrough. <b>d</b>, Breakthrough</div>
<div class="cl" id="r1" style="left:354.6px;top:388.84px;transform:scaleX(0.9359)">curves for a C<sub>2</sub>H<sub>2</sub>/C<sub>3</sub>H<sub>4</sub>/1-C<sub>4</sub>H<sub>6</sub>/C<sub>2</sub>H<sub>4</sub> mixture (1:1:1:97) on 1.4 g of JNU-3a at 298 K</div>
<div class="cl" id="r2" style="left:354.6px;top:401.88px;transform:scaleX(0.9734)">(flow rate: 6.0 ml min<sup>−1</sup>). The inset shows an enlargement of the C<sub>2</sub>H<sub>2</sub>, C<sub>3</sub>H<sub>4</sub> and</div>
<div class="cl" id="r3" style="left:354.6px;top:414.92px;transform:scaleX(1.0029)">1-C<sub>4</sub>H<sub>6</sub> concentrations at breakthrough. <b>e</b>, Breakthrough curves for a C<sub>2</sub>H<sub>2</sub>/C<sub>3</sub>H<sub>4</sub>/1-</div>
<div class="cl" id="r4" style="left:354.6px;top:427.96px;transform:scaleX(0.9334)">C<sub>4</sub>H<sub>6</sub>/C<sub>2</sub>H<sub>4</sub> mixture (1:1:1:97) on 1.4 g of JNU-3a at 298 K (flow rate: 8.0 ml min<sup>−1</sup>).</div>
<div class="cl" id="r5" style="left:354.6px;top:441.00px;transform:scaleX(0.9896)">The inset shows an enlargement of the C<sub>2</sub>H<sub>2</sub>, C<sub>3</sub>H<sub>4</sub> and 1-C<sub>4</sub>H<sub>6</sub> concentrations</div>
<div class="cl" id="r6" style="left:354.6px;top:454.04px;transform:scaleX(0.9935)">at breakthrough. <b>f</b>, Breakthrough curves for a C<sub>2</sub>H<sub>2</sub>/C<sub>3</sub>H<sub>4</sub>/1-C<sub>4</sub>H<sub>6</sub>/C<sub>2</sub>H<sub>4</sub> mixture</div>
<div class="cl" id="r7" style="left:354.6px;top:467.08px;transform:scaleX(0.9160)">(1:1:1:1) on 1.4 g of JNU-3a at 298 K (flow rate: 4.0 ml min<sup>−1</sup>).</div>
</div></body></html>
